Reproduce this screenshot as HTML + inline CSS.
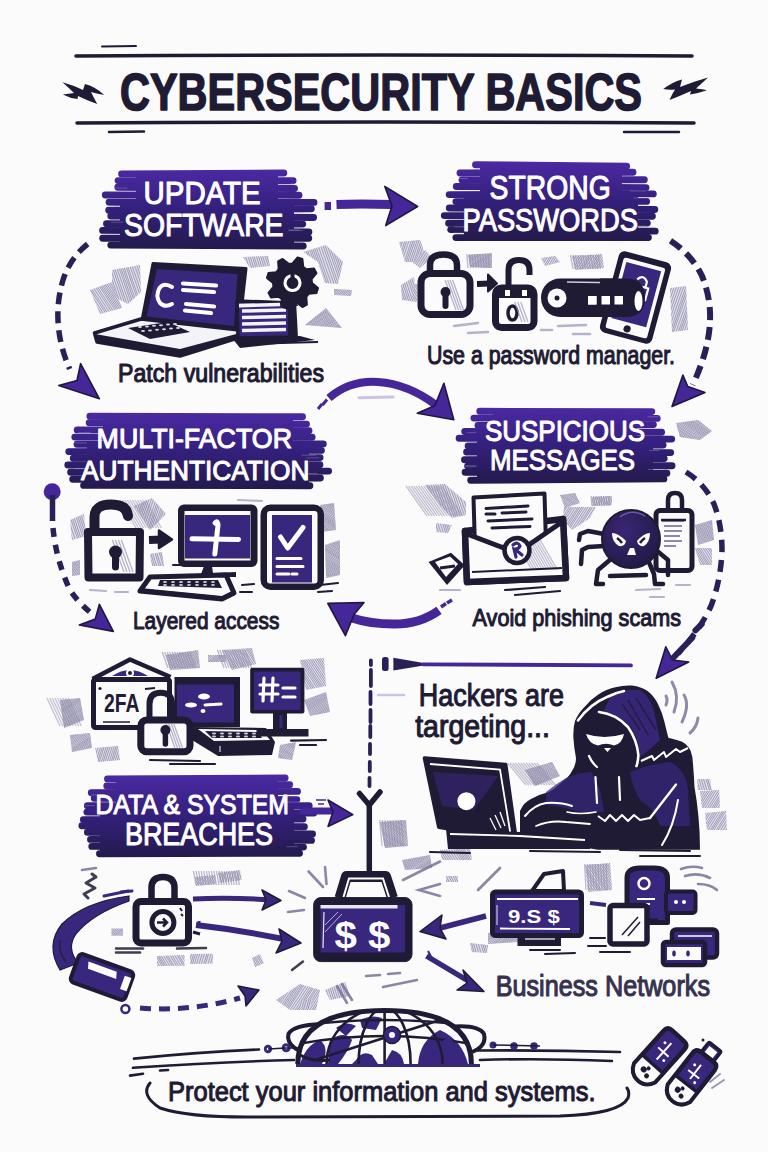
<!DOCTYPE html>
<html><head><meta charset="utf-8"><style>
html,body{margin:0;padding:0;background:#fbfbfc;}
svg{display:block;}
</style></head><body>
<svg width="768" height="1152" viewBox="0 0 768 1152">
<rect width="768" height="1152" fill="#fbfbfc"/>
<g stroke="#1f1b34" stroke-linecap="round" fill="none"><path d="M76 56 Q380 54 692 56" stroke-width="3.5"/><path d="M77 123 Q380 121 694 123" stroke-width="3.5"/><path d="M102 46.5 L136 46" stroke-width="2"/><path d="M109 132 L144 131.5" stroke-width="2.5"/><path d="M624 132 L679 132" stroke-width="2.5"/></g>
<path d="M62.4 82.2 Q73 85 83 90 L85 84 Q96 87 104.2 95 Q96 93.5 91 92 Q94 98 97.2 104 Q86 100 78 96 L77.5 99 Q70 98.5 62.8 94.6 Q69 93.5 74 93 Q68 87 62.4 82.2 Z" fill="#1f1b34"/>
<path d="M663.2 89.1 Q672 82 682 79.4 L680 87 Q695 81 708 77.4 Q702 83 696 88.5 Q703 89 707 90.3 Q698 93.5 690 94.5 L691 91 Q680 96 669.5 100 Q672 94 675 89.5 Q669 90 663.2 89.1 Z" fill="#1f1b34"/>
<text x="120" y="110" font-family="Liberation Sans" font-weight="bold" font-size="52.33" fill="#1f1b34" textLength="522" lengthAdjust="spacingAndGlyphs" stroke="#1f1b34" stroke-width="1.6" stroke-linejoin="round">CYBERSECURITY BASICS</text>
<defs><linearGradient id="g1" gradientUnits="userSpaceOnUse" x1="0" y1="170" x2="0" y2="249"><stop offset="0" stop-color="#4b29a2"/><stop offset="0.5" stop-color="#33207c"/><stop offset="1" stop-color="#241a4c"/></linearGradient></defs>
<rect x="136" y="173" width="142" height="73" fill="url(#g1)"/>
<rect x="120" y="201.6" width="174" height="41.4" fill="url(#g1)"/>
<g stroke="url(#g1)" stroke-width="6.9" stroke-linecap="round" fill="none"><path d="M121.6 173.9 L283.8 173.0" /><path d="M118.1 180.6 L293.1 180.7" /><path d="M117.8 187.2 L294.5 188.5" /><path d="M105.3 195.0 L299.0 195.2" /><path d="M109.1 202.2 L314.0 202.4" /><path d="M108.7 210.2 L311.3 208.8" /><path d="M110.8 216.0 L313.6 217.5" /><path d="M106.5 223.7 L302.7 224.1" /><path d="M102.6 230.4 L308.9 231.9" /><path d="M102.7 238.3 L308.7 238.3" /><path d="M110.8 245.1 L303.2 246.0" /></g>
<g stroke="#ffffff" stroke-opacity="0.22" stroke-width="1" stroke-linecap="round"><path d="M106.3 205.9 l8.2 0"/><path d="M289.5 230.4 l13.1 0"/><path d="M111.9 188.1 l14.9 0"/><path d="M291.3 183.9 l13.8 0"/><path d="M111.5 222.2 l11.4 0"/><path d="M288.6 230.0 l10.4 0"/></g>
<text x="143.5" y="204" font-family="Liberation Sans" font-weight="normal" font-size="31.98" fill="#fff" textLength="117.19999999999999" lengthAdjust="spacingAndGlyphs" stroke="#fff" stroke-width="1.1" stroke-linejoin="round">UPDATE</text>
<text x="124" y="235.5" font-family="Liberation Sans" font-weight="normal" font-size="31.98" fill="#fff" textLength="159.5" lengthAdjust="spacingAndGlyphs" stroke="#fff" stroke-width="1.1" stroke-linejoin="round">SOFTWARE</text>
<defs><linearGradient id="g2" gradientUnits="userSpaceOnUse" x1="0" y1="162" x2="0" y2="241"><stop offset="0" stop-color="#4b29a2"/><stop offset="0.5" stop-color="#33207c"/><stop offset="1" stop-color="#241a4c"/></linearGradient></defs>
<rect x="480" y="165" width="142" height="73" fill="url(#g2)"/>
<rect x="464" y="193.6" width="174" height="41.4" fill="url(#g2)"/>
<g stroke="url(#g2)" stroke-width="6.9" stroke-linecap="round" fill="none"><path d="M475.5 164.7 L626.6 166.2" /><path d="M460.0 173.0 L633.0 172.3" /><path d="M462.0 180.0 L644.3 179.7" /><path d="M456.3 186.5 L646.0 187.6" /><path d="M449.2 194.6 L653.3 193.9" /><path d="M455.9 201.6 L646.6 201.4" /><path d="M449.3 208.0 L654.8 209.5" /><path d="M444.3 215.6 L652.4 216.2" /><path d="M448.6 223.2 L647.3 223.1" /><path d="M450.7 229.6 L655.2 231.1" /><path d="M455.9 237.6 L648.4 237.5" /></g>
<g stroke="#ffffff" stroke-opacity="0.22" stroke-width="1" stroke-linecap="round"><path d="M453.4 232.9 l9.5 0"/><path d="M631.6 226.1 l13.9 0"/><path d="M454.1 226.9 l14.3 0"/><path d="M630.2 191.0 l15.7 0"/><path d="M454.0 178.5 l13.7 0"/><path d="M633.8 198.0 l11.9 0"/></g>
<text x="489.6" y="199" font-family="Liberation Sans" font-weight="normal" font-size="33.43" fill="#fff" textLength="121.10000000000002" lengthAdjust="spacingAndGlyphs" stroke="#fff" stroke-width="1.1" stroke-linejoin="round">STRONG</text>
<text x="462.5" y="230.5" font-family="Liberation Sans" font-weight="normal" font-size="31.98" fill="#fff" textLength="175.5" lengthAdjust="spacingAndGlyphs" stroke="#fff" stroke-width="1.1" stroke-linejoin="round">PASSWORDS</text>
<defs><linearGradient id="g3" gradientUnits="userSpaceOnUse" x1="0" y1="413" x2="0" y2="489"><stop offset="0" stop-color="#4b29a2"/><stop offset="0.5" stop-color="#33207c"/><stop offset="1" stop-color="#241a4c"/></linearGradient></defs>
<rect x="103" y="416" width="190" height="70" fill="url(#g3)"/>
<rect x="87" y="443.4" width="222" height="39.6" fill="url(#g3)"/>
<g stroke="url(#g3)" stroke-width="6.9" stroke-linecap="round" fill="none"><path d="M89.9 416.2 L302.5 416.7" /><path d="M89.2 422.7 L306.5 424.1" /><path d="M77.2 429.9 L309.0 430.7" /><path d="M74.8 437.1 L312.1 437.2" /><path d="M77.0 444.3 L323.3 443.9" /><path d="M68.8 451.6 L321.4 450.4" /><path d="M73.3 458.2 L320.1 457.6" /><path d="M67.8 465.0 L319.9 464.7" /><path d="M70.6 472.3 L328.6 471.1" /><path d="M72.7 479.2 L320.4 478.0" /><path d="M83.6 485.4 L309.9 485.7" /></g>
<g stroke="#ffffff" stroke-opacity="0.22" stroke-width="1" stroke-linecap="round"><path d="M74.6 468.7 l15.5 0"/><path d="M308.2 473.5 l9.1 0"/><path d="M78.7 432.5 l11.5 0"/><path d="M306.6 457.9 l12.1 0"/><path d="M73.8 442.9 l12.7 0"/><path d="M301.8 455.2 l13.5 0"/></g>
<text x="96.6" y="448" font-family="Liberation Sans" font-weight="normal" font-size="28.34" fill="#fff" textLength="195.4" lengthAdjust="spacingAndGlyphs" stroke="#fff" stroke-width="1.1" stroke-linejoin="round">MULTI-FACTOR</text>
<text x="81" y="480" font-family="Liberation Sans" font-weight="normal" font-size="28.34" fill="#fff" textLength="228.5" lengthAdjust="spacingAndGlyphs" stroke="#fff" stroke-width="1.1" stroke-linejoin="round">AUTHENTICATION</text>
<defs><linearGradient id="g4" gradientUnits="userSpaceOnUse" x1="0" y1="408" x2="0" y2="483"><stop offset="0" stop-color="#4b29a2"/><stop offset="0.5" stop-color="#33207c"/><stop offset="1" stop-color="#241a4c"/></linearGradient></defs>
<rect x="493" y="411" width="144" height="69" fill="url(#g4)"/>
<rect x="477" y="438.0" width="176" height="39.0" fill="url(#g4)"/>
<g stroke="url(#g4)" stroke-width="6.9" stroke-linecap="round" fill="none"><path d="M479.8 411.3 L651.8 411.6" /><path d="M473.9 418.1 L657.2 418.4" /><path d="M478.0 425.5 L653.4 424.6" /><path d="M464.7 431.5 L661.6 432.2" /><path d="M459.1 438.2 L671.7 439.1" /><path d="M468.1 446.0 L663.1 445.0" /><path d="M466.6 452.0 L670.7 452.6" /><path d="M464.5 459.7 L664.2 458.6" /><path d="M467.6 466.1 L672.0 465.8" /><path d="M465.1 472.2 L666.9 473.3" /><path d="M470.7 480.2 L663.9 478.9" /></g>
<g stroke="#ffffff" stroke-opacity="0.22" stroke-width="1" stroke-linecap="round"><path d="M465.4 466.8 l10.4 0"/><path d="M648.4 469.4 l15.1 0"/><path d="M465.1 465.7 l11.3 0"/><path d="M649.6 450.5 l9.3 0"/><path d="M467.5 432.6 l8.3 0"/><path d="M648.0 416.8 l10.2 0"/></g>
<text x="485" y="441" font-family="Liberation Sans" font-weight="normal" font-size="29.07" fill="#fff" textLength="160" lengthAdjust="spacingAndGlyphs" stroke="#fff" stroke-width="1.1" stroke-linejoin="round">SUSPICIOUS</text>
<text x="490" y="470" font-family="Liberation Sans" font-weight="normal" font-size="29.07" fill="#fff" textLength="145" lengthAdjust="spacingAndGlyphs" stroke="#fff" stroke-width="1.1" stroke-linejoin="round">MESSAGES</text>
<defs><linearGradient id="g5" gradientUnits="userSpaceOnUse" x1="0" y1="775" x2="0" y2="857"><stop offset="0" stop-color="#4b29a2"/><stop offset="0.5" stop-color="#33207c"/><stop offset="1" stop-color="#241a4c"/></linearGradient></defs>
<rect x="116" y="778" width="162" height="76" fill="url(#g5)"/>
<rect x="100" y="807.8" width="194" height="43.199999999999996" fill="url(#g5)"/>
<g stroke="url(#g5)" stroke-width="6.9" stroke-linecap="round" fill="none"><path d="M107.5 778.9 L285.1 778.0" /><path d="M106.8 786.0 L289.7 784.6" /><path d="M91.3 792.8 L297.5 791.4" /><path d="M94.2 798.3 L296.8 799.6" /><path d="M87.4 805.8 L309.2 805.7" /><path d="M86.9 812.1 L313.8 813.0" /><path d="M83.4 819.8 L303.0 819.0" /><path d="M81.9 825.7 L304.4 826.8" /><path d="M87.4 832.3 L312.5 833.9" /><path d="M90.5 839.4 L311.5 840.4" /><path d="M91.8 846.4 L303.5 847.1" /><path d="M99.5 853.8 L299.5 853.3" /></g>
<g stroke="#ffffff" stroke-opacity="0.22" stroke-width="1" stroke-linecap="round"><path d="M91.5 794.9 l13.5 0"/><path d="M286.9 846.7 l10.4 0"/><path d="M85.3 805.6 l9.2 0"/><path d="M291.6 785.4 l12.8 0"/><path d="M89.4 781.2 l10.7 0"/><path d="M287.5 802.1 l11.8 0"/></g>
<text x="95.6" y="814" font-family="Liberation Sans" font-weight="normal" font-size="27.62" fill="#fff" textLength="193.4" lengthAdjust="spacingAndGlyphs" stroke="#fff" stroke-width="1.1" stroke-linejoin="round">DATA &amp; SYSTEM</text>
<text x="125" y="845" font-family="Liberation Sans" font-weight="normal" font-size="30.52" fill="#fff" textLength="148" lengthAdjust="spacingAndGlyphs" stroke="#fff" stroke-width="1.1" stroke-linejoin="round">BREACHES</text>
<defs><clipPath id="pc1"><path d="M112.0 270.0 L140.0 265.0 L141.0 292.0 L128.0 304.0 L112.0 296.0Z"/></clipPath></defs><path d="M112.0 270.0 L140.0 265.0 L141.0 292.0 L128.0 304.0 L112.0 296.0Z" fill="#dcdae7" opacity="0.9"/><g clip-path="url(#pc1)" stroke="#8a86a6" stroke-width="1" opacity="0.75"><path d="M95.8 305.0 l-14.2 -41.0"/><path d="M98.0 305.0 l-14.2 -41.0"/><path d="M100.4 305.0 l-14.2 -41.0"/><path d="M102.0 305.0 l-14.2 -41.0"/><path d="M103.8 305.0 l-14.2 -41.0"/><path d="M106.1 305.0 l-14.2 -41.0"/><path d="M108.2 305.0 l-14.2 -41.0"/><path d="M110.2 305.0 l-14.2 -41.0"/><path d="M112.0 305.0 l-14.2 -41.0"/><path d="M114.1 305.0 l-14.2 -41.0"/><path d="M116.6 305.0 l-14.2 -41.0"/><path d="M118.6 305.0 l-14.2 -41.0"/><path d="M120.8 305.0 l-14.2 -41.0"/><path d="M123.1 305.0 l-14.2 -41.0"/><path d="M125.4 305.0 l-14.2 -41.0"/><path d="M127.3 305.0 l-14.2 -41.0"/><path d="M129.7 305.0 l-14.2 -41.0"/><path d="M131.9 305.0 l-14.2 -41.0"/><path d="M133.6 305.0 l-14.2 -41.0"/><path d="M135.5 305.0 l-14.2 -41.0"/><path d="M137.1 305.0 l-14.2 -41.0"/><path d="M139.4 305.0 l-14.2 -41.0"/><path d="M141.0 305.0 l-14.2 -41.0"/><path d="M143.5 305.0 l-14.2 -41.0"/><path d="M145.7 305.0 l-14.2 -41.0"/><path d="M148.3 305.0 l-14.2 -41.0"/><path d="M150.6 305.0 l-14.2 -41.0"/><path d="M152.8 305.0 l-14.2 -41.0"/><path d="M155.1 305.0 l-14.2 -41.0"/></g>
<defs><clipPath id="pc2"><path d="M90.0 290.0 L112.0 282.0 L122.0 308.0 L100.0 314.0Z"/></clipPath></defs><path d="M90.0 290.0 L112.0 282.0 L122.0 308.0 L100.0 314.0Z" fill="#dcdae7" opacity="0.9"/><g clip-path="url(#pc2)" stroke="#8a86a6" stroke-width="1" opacity="0.75"><path d="M65.6 315.0 l-22.4 -34.0"/><path d="M67.3 315.0 l-22.4 -34.0"/><path d="M69.2 315.0 l-22.4 -34.0"/><path d="M71.0 315.0 l-22.4 -34.0"/><path d="M73.4 315.0 l-22.4 -34.0"/><path d="M75.9 315.0 l-22.4 -34.0"/><path d="M77.7 315.0 l-22.4 -34.0"/><path d="M79.5 315.0 l-22.4 -34.0"/><path d="M81.2 315.0 l-22.4 -34.0"/><path d="M83.5 315.0 l-22.4 -34.0"/><path d="M86.1 315.0 l-22.4 -34.0"/><path d="M88.3 315.0 l-22.4 -34.0"/><path d="M90.7 315.0 l-22.4 -34.0"/><path d="M93.2 315.0 l-22.4 -34.0"/><path d="M95.3 315.0 l-22.4 -34.0"/><path d="M97.2 315.0 l-22.4 -34.0"/><path d="M99.8 315.0 l-22.4 -34.0"/><path d="M101.9 315.0 l-22.4 -34.0"/><path d="M104.4 315.0 l-22.4 -34.0"/><path d="M106.9 315.0 l-22.4 -34.0"/><path d="M108.8 315.0 l-22.4 -34.0"/><path d="M111.3 315.0 l-22.4 -34.0"/><path d="M113.9 315.0 l-22.4 -34.0"/><path d="M115.9 315.0 l-22.4 -34.0"/><path d="M118.4 315.0 l-22.4 -34.0"/><path d="M120.1 315.0 l-22.4 -34.0"/><path d="M121.9 315.0 l-22.4 -34.0"/><path d="M123.7 315.0 l-22.4 -34.0"/><path d="M125.5 315.0 l-22.4 -34.0"/><path d="M127.3 315.0 l-22.4 -34.0"/><path d="M129.4 315.0 l-22.4 -34.0"/><path d="M131.4 315.0 l-22.4 -34.0"/><path d="M133.5 315.0 l-22.4 -34.0"/><path d="M135.6 315.0 l-22.4 -34.0"/><path d="M138.2 315.0 l-22.4 -34.0"/><path d="M140.3 315.0 l-22.4 -34.0"/><path d="M142.3 315.0 l-22.4 -34.0"/><path d="M144.4 315.0 l-22.4 -34.0"/></g>
<defs><clipPath id="pc3"><path d="M243.0 257.0 L268.0 256.0 L270.0 266.0 L250.0 268.0Z"/></clipPath></defs><path d="M243.0 257.0 L268.0 256.0 L270.0 266.0 L250.0 268.0Z" fill="#dcdae7" opacity="0.9"/><g clip-path="url(#pc3)" stroke="#8a86a6" stroke-width="1" opacity="0.75"><path d="M236.6 269.0 l-4.4 -14.0"/><path d="M238.8 269.0 l-4.4 -14.0"/><path d="M240.6 269.0 l-4.4 -14.0"/><path d="M243.1 269.0 l-4.4 -14.0"/><path d="M245.1 269.0 l-4.4 -14.0"/><path d="M247.3 269.0 l-4.4 -14.0"/><path d="M249.5 269.0 l-4.4 -14.0"/><path d="M252.0 269.0 l-4.4 -14.0"/><path d="M254.1 269.0 l-4.4 -14.0"/><path d="M256.3 269.0 l-4.4 -14.0"/><path d="M258.1 269.0 l-4.4 -14.0"/><path d="M260.4 269.0 l-4.4 -14.0"/><path d="M262.5 269.0 l-4.4 -14.0"/><path d="M264.7 269.0 l-4.4 -14.0"/><path d="M266.7 269.0 l-4.4 -14.0"/><path d="M269.1 269.0 l-4.4 -14.0"/><path d="M271.0 269.0 l-4.4 -14.0"/><path d="M272.7 269.0 l-4.4 -14.0"/><path d="M275.2 269.0 l-4.4 -14.0"/></g>
<defs><clipPath id="pc4"><path d="M303.0 252.0 L326.0 245.0 L343.0 262.0 L338.0 284.0 L325.0 283.0 L318.0 262.0Z"/></clipPath></defs><path d="M303.0 252.0 L326.0 245.0 L343.0 262.0 L338.0 284.0 L325.0 283.0 L318.0 262.0Z" fill="#dcdae7" opacity="0.9"/><g clip-path="url(#pc4)" stroke="#8a86a6" stroke-width="1" opacity="0.75"><path d="M286.8 285.0 l-14.2 -41.0"/><path d="M288.7 285.0 l-14.2 -41.0"/><path d="M291.0 285.0 l-14.2 -41.0"/><path d="M293.1 285.0 l-14.2 -41.0"/><path d="M294.8 285.0 l-14.2 -41.0"/><path d="M296.4 285.0 l-14.2 -41.0"/><path d="M298.6 285.0 l-14.2 -41.0"/><path d="M300.5 285.0 l-14.2 -41.0"/><path d="M303.0 285.0 l-14.2 -41.0"/><path d="M304.7 285.0 l-14.2 -41.0"/><path d="M306.8 285.0 l-14.2 -41.0"/><path d="M308.8 285.0 l-14.2 -41.0"/><path d="M311.2 285.0 l-14.2 -41.0"/><path d="M313.6 285.0 l-14.2 -41.0"/><path d="M315.5 285.0 l-14.2 -41.0"/><path d="M318.0 285.0 l-14.2 -41.0"/><path d="M319.6 285.0 l-14.2 -41.0"/><path d="M321.9 285.0 l-14.2 -41.0"/><path d="M323.7 285.0 l-14.2 -41.0"/><path d="M325.6 285.0 l-14.2 -41.0"/><path d="M327.4 285.0 l-14.2 -41.0"/><path d="M329.3 285.0 l-14.2 -41.0"/><path d="M331.7 285.0 l-14.2 -41.0"/><path d="M334.3 285.0 l-14.2 -41.0"/><path d="M336.7 285.0 l-14.2 -41.0"/><path d="M338.7 285.0 l-14.2 -41.0"/><path d="M341.1 285.0 l-14.2 -41.0"/><path d="M343.1 285.0 l-14.2 -41.0"/><path d="M345.1 285.0 l-14.2 -41.0"/><path d="M346.9 285.0 l-14.2 -41.0"/><path d="M348.8 285.0 l-14.2 -41.0"/><path d="M350.6 285.0 l-14.2 -41.0"/><path d="M353.2 285.0 l-14.2 -41.0"/><path d="M355.6 285.0 l-14.2 -41.0"/><path d="M358.2 285.0 l-14.2 -41.0"/></g>
<defs><clipPath id="pc5"><path d="M305.0 325.0 L326.0 308.0 L342.0 328.0Z"/></clipPath></defs><path d="M305.0 325.0 L326.0 308.0 L342.0 328.0Z" fill="#dcdae7" opacity="0.9"/><g clip-path="url(#pc5)" stroke="#8a86a6" stroke-width="1" opacity="0.75"><path d="M268.4 329.0 l34.6 -22.0"/><path d="M270.2 329.0 l34.6 -22.0"/><path d="M272.2 329.0 l34.6 -22.0"/><path d="M274.5 329.0 l34.6 -22.0"/><path d="M276.9 329.0 l34.6 -22.0"/><path d="M279.2 329.0 l34.6 -22.0"/><path d="M281.3 329.0 l34.6 -22.0"/><path d="M283.7 329.0 l34.6 -22.0"/><path d="M286.1 329.0 l34.6 -22.0"/><path d="M288.0 329.0 l34.6 -22.0"/><path d="M289.6 329.0 l34.6 -22.0"/><path d="M291.4 329.0 l34.6 -22.0"/><path d="M293.3 329.0 l34.6 -22.0"/><path d="M295.8 329.0 l34.6 -22.0"/><path d="M297.8 329.0 l34.6 -22.0"/><path d="M299.5 329.0 l34.6 -22.0"/><path d="M301.3 329.0 l34.6 -22.0"/><path d="M303.7 329.0 l34.6 -22.0"/><path d="M305.7 329.0 l34.6 -22.0"/><path d="M307.5 329.0 l34.6 -22.0"/><path d="M309.9 329.0 l34.6 -22.0"/><path d="M311.9 329.0 l34.6 -22.0"/><path d="M314.3 329.0 l34.6 -22.0"/><path d="M315.9 329.0 l34.6 -22.0"/><path d="M318.2 329.0 l34.6 -22.0"/><path d="M320.2 329.0 l34.6 -22.0"/><path d="M321.9 329.0 l34.6 -22.0"/><path d="M324.5 329.0 l34.6 -22.0"/><path d="M326.1 329.0 l34.6 -22.0"/><path d="M328.5 329.0 l34.6 -22.0"/><path d="M331.1 329.0 l34.6 -22.0"/><path d="M332.8 329.0 l34.6 -22.0"/><path d="M334.6 329.0 l34.6 -22.0"/><path d="M336.5 329.0 l34.6 -22.0"/><path d="M338.3 329.0 l34.6 -22.0"/><path d="M340.8 329.0 l34.6 -22.0"/><path d="M343.0 329.0 l34.6 -22.0"/><path d="M344.8 329.0 l34.6 -22.0"/><path d="M347.3 329.0 l34.6 -22.0"/><path d="M349.1 329.0 l34.6 -22.0"/><path d="M351.7 329.0 l34.6 -22.0"/><path d="M353.7 329.0 l34.6 -22.0"/><path d="M355.3 329.0 l34.6 -22.0"/><path d="M357.3 329.0 l34.6 -22.0"/><path d="M359.9 329.0 l34.6 -22.0"/><path d="M361.7 329.0 l34.6 -22.0"/><path d="M363.7 329.0 l34.6 -22.0"/><path d="M366.1 329.0 l34.6 -22.0"/><path d="M368.3 329.0 l34.6 -22.0"/><path d="M370.5 329.0 l34.6 -22.0"/><path d="M372.8 329.0 l34.6 -22.0"/><path d="M374.4 329.0 l34.6 -22.0"/><path d="M376.4 329.0 l34.6 -22.0"/><path d="M378.3 329.0 l34.6 -22.0"/></g>
<defs><clipPath id="pc6"><path d="M334.0 289.0 L352.0 290.0 L351.0 296.0 L334.0 295.0Z"/></clipPath></defs><path d="M334.0 289.0 L352.0 290.0 L351.0 296.0 L334.0 295.0Z" fill="#dcdae7" opacity="0.9"/><g clip-path="url(#pc6)" stroke="#8a86a6" stroke-width="1" opacity="0.75"><path d="M319.9 297.0 l12.1 -9.0"/><path d="M322.3 297.0 l12.1 -9.0"/><path d="M324.4 297.0 l12.1 -9.0"/><path d="M326.2 297.0 l12.1 -9.0"/><path d="M327.8 297.0 l12.1 -9.0"/><path d="M330.1 297.0 l12.1 -9.0"/><path d="M332.2 297.0 l12.1 -9.0"/><path d="M334.5 297.0 l12.1 -9.0"/><path d="M336.5 297.0 l12.1 -9.0"/><path d="M338.9 297.0 l12.1 -9.0"/><path d="M340.8 297.0 l12.1 -9.0"/><path d="M343.2 297.0 l12.1 -9.0"/><path d="M345.5 297.0 l12.1 -9.0"/><path d="M347.5 297.0 l12.1 -9.0"/><path d="M349.6 297.0 l12.1 -9.0"/><path d="M351.9 297.0 l12.1 -9.0"/><path d="M353.7 297.0 l12.1 -9.0"/><path d="M355.9 297.0 l12.1 -9.0"/><path d="M358.3 297.0 l12.1 -9.0"/><path d="M360.1 297.0 l12.1 -9.0"/><path d="M362.5 297.0 l12.1 -9.0"/><path d="M364.8 297.0 l12.1 -9.0"/></g>
<defs><clipPath id="pc7"><path d="M399.0 242.0 L420.0 240.0 L428.0 262.0 L405.0 262.0Z"/></clipPath></defs><path d="M399.0 242.0 L420.0 240.0 L428.0 262.0 L405.0 262.0Z" fill="#dcdae7" opacity="0.9"/><g clip-path="url(#pc7)" stroke="#8a86a6" stroke-width="1" opacity="0.75"><path d="M389.0 263.0 l8.0 -24.0"/><path d="M391.5 263.0 l8.0 -24.0"/><path d="M393.5 263.0 l8.0 -24.0"/><path d="M395.2 263.0 l8.0 -24.0"/><path d="M397.6 263.0 l8.0 -24.0"/><path d="M399.3 263.0 l8.0 -24.0"/><path d="M401.5 263.0 l8.0 -24.0"/><path d="M404.0 263.0 l8.0 -24.0"/><path d="M405.8 263.0 l8.0 -24.0"/><path d="M407.5 263.0 l8.0 -24.0"/><path d="M409.5 263.0 l8.0 -24.0"/><path d="M411.4 263.0 l8.0 -24.0"/><path d="M413.5 263.0 l8.0 -24.0"/><path d="M415.2 263.0 l8.0 -24.0"/><path d="M417.3 263.0 l8.0 -24.0"/><path d="M419.9 263.0 l8.0 -24.0"/><path d="M422.1 263.0 l8.0 -24.0"/><path d="M424.3 263.0 l8.0 -24.0"/><path d="M425.9 263.0 l8.0 -24.0"/><path d="M428.1 263.0 l8.0 -24.0"/><path d="M429.8 263.0 l8.0 -24.0"/><path d="M431.6 263.0 l8.0 -24.0"/><path d="M433.8 263.0 l8.0 -24.0"/><path d="M435.5 263.0 l8.0 -24.0"/><path d="M437.5 263.0 l8.0 -24.0"/></g>
<defs><clipPath id="pc8"><path d="M401.0 285.0 L414.0 277.0 L417.0 302.0 L402.0 300.0Z"/></clipPath></defs><path d="M401.0 285.0 L414.0 277.0 L417.0 302.0 L402.0 300.0Z" fill="#dcdae7" opacity="0.9"/><g clip-path="url(#pc8)" stroke="#8a86a6" stroke-width="1" opacity="0.75"><path d="M389.9 303.0 l-9.1 -27.0"/><path d="M391.9 303.0 l-9.1 -27.0"/><path d="M393.8 303.0 l-9.1 -27.0"/><path d="M395.6 303.0 l-9.1 -27.0"/><path d="M397.3 303.0 l-9.1 -27.0"/><path d="M399.0 303.0 l-9.1 -27.0"/><path d="M401.4 303.0 l-9.1 -27.0"/><path d="M403.5 303.0 l-9.1 -27.0"/><path d="M405.5 303.0 l-9.1 -27.0"/><path d="M407.2 303.0 l-9.1 -27.0"/><path d="M409.3 303.0 l-9.1 -27.0"/><path d="M411.2 303.0 l-9.1 -27.0"/><path d="M413.4 303.0 l-9.1 -27.0"/><path d="M415.9 303.0 l-9.1 -27.0"/><path d="M417.9 303.0 l-9.1 -27.0"/><path d="M420.0 303.0 l-9.1 -27.0"/><path d="M422.4 303.0 l-9.1 -27.0"/><path d="M424.7 303.0 l-9.1 -27.0"/><path d="M426.8 303.0 l-9.1 -27.0"/></g>
<path d="M153 263.5 L246 268.6 L239 331 L142 320 Z" fill="#1f1b34" stroke="#1f1b34" stroke-width="3" stroke-linejoin="round"/>
<path d="M157 269 L237.5 274 L234 326 L146.5 316.5 Z" fill="#38277c"/>
<path d="M172 287 Q164 282 159.5 288 Q155 296 160 303 Q165 308 172 304" stroke="#fff" stroke-width="4" fill="none" stroke-linecap="round"/>
<g stroke="#fff" stroke-width="4.2" stroke-linecap="round"><path d="M183 283.5 L216 285.5"/><path d="M183 290 L214 292"/><path d="M186 304 L214 306.5"/><path d="M185 310.5 L211 313"/></g>
<path d="M141 319 L239 330 L241 337 L180 356 L97 342 L94.5 333 Z" fill="#f4f3f8" stroke="#1f1b34" stroke-width="3.5" stroke-linejoin="round"/>
<path d="M95 334 L180 349 L240 333 L241 337 L180 356 L97 342 Z" fill="#1f1b34"/>
<path d="M128 328 L168 322 L190 332 L150 339 Z" fill="#1f1b34"/>
<g fill="#d8d6e6"><ellipse cx="140" cy="327.0" rx="2" ry="1"/><ellipse cx="143" cy="331.0" rx="2" ry="1"/><ellipse cx="147" cy="326.4" rx="2" ry="1"/><ellipse cx="150" cy="330.4" rx="2" ry="1"/><ellipse cx="154" cy="325.8" rx="2" ry="1"/><ellipse cx="157" cy="329.8" rx="2" ry="1"/><ellipse cx="161" cy="325.2" rx="2" ry="1"/><ellipse cx="164" cy="329.2" rx="2" ry="1"/><ellipse cx="168" cy="324.6" rx="2" ry="1"/><ellipse cx="171" cy="328.6" rx="2" ry="1"/><ellipse cx="175" cy="324.0" rx="2" ry="1"/><ellipse cx="178" cy="328.0" rx="2" ry="1"/></g>
<path d="M237 301 L292 303 L292 337 L238 338 Z" fill="#38277c" stroke="#1f1b34" stroke-width="3.5" stroke-linejoin="round"/>
<g stroke="#f4f3f8" stroke-width="3.6"><path d="M239 305.6 L280 304.5"/><path d="M242 311 L286 310"/><path d="M242 317.5 L286 316.5"/><path d="M242 324 L286 323"/><path d="M242 330.5 L286 329.5"/></g>
<path d="M288 300 L296 300 L298 338 L288 338 Z" fill="#1f1b34"/>
<path d="M232 338 L300 336 L315 340 L240 348 Z" fill="#1f1b34"/>
<path d="M242 344 L318 342" stroke="#1f1b34" stroke-width="2"/>
<path d="M312.0 283.0 L318.0 288.1 L316.5 292.9 L308.7 293.8 L306.3 296.8 L306.9 304.6 L302.4 307.0 L296.3 302.1 L292.5 302.5 L287.4 308.5 L282.6 307.0 L281.7 299.2 L278.7 296.8 L270.9 297.4 L268.5 292.9 L273.4 286.8 L273.0 283.0 L267.0 277.9 L268.5 273.1 L276.3 272.2 L278.7 269.2 L278.1 261.4 L282.6 259.0 L288.7 263.9 L292.5 263.5 L297.6 257.5 L302.4 259.0 L303.3 266.8 L306.3 269.2 L314.1 268.6 L316.5 273.1 L311.6 279.2Z" fill="#1f1b34" stroke="#1f1b34" stroke-width="2" stroke-linejoin="round"/>
<circle cx="292.5" cy="283" r="7.5" fill="none" stroke="#fff" stroke-width="3.2"/>
<path d="M292.5 283 L292.5 273" stroke="#1f1b34" stroke-width="4"/>
<path d="M286 300 L284 306 L298 306 L296 300 Z" fill="#1f1b34"/>
<defs><clipPath id="pc9"><path d="M412.0 262.0 L425.0 250.0 L432.0 258.0 L420.0 268.0Z"/></clipPath></defs><path d="M412.0 262.0 L425.0 250.0 L432.0 258.0 L420.0 268.0Z" fill="#dcdae7" opacity="0.9"/><g clip-path="url(#pc9)" stroke="#8a86a6" stroke-width="1" opacity="0.75"><path d="M397.4 269.0 l12.6 -20.0"/><path d="M399.6 269.0 l12.6 -20.0"/><path d="M401.5 269.0 l12.6 -20.0"/><path d="M403.3 269.0 l12.6 -20.0"/><path d="M405.5 269.0 l12.6 -20.0"/><path d="M407.5 269.0 l12.6 -20.0"/><path d="M409.5 269.0 l12.6 -20.0"/><path d="M411.7 269.0 l12.6 -20.0"/><path d="M413.7 269.0 l12.6 -20.0"/><path d="M416.2 269.0 l12.6 -20.0"/><path d="M418.5 269.0 l12.6 -20.0"/><path d="M420.8 269.0 l12.6 -20.0"/><path d="M422.6 269.0 l12.6 -20.0"/><path d="M425.2 269.0 l12.6 -20.0"/><path d="M427.7 269.0 l12.6 -20.0"/><path d="M429.7 269.0 l12.6 -20.0"/><path d="M431.5 269.0 l12.6 -20.0"/><path d="M433.2 269.0 l12.6 -20.0"/><path d="M434.9 269.0 l12.6 -20.0"/><path d="M437.4 269.0 l12.6 -20.0"/><path d="M439.9 269.0 l12.6 -20.0"/><path d="M441.6 269.0 l12.6 -20.0"/><path d="M443.9 269.0 l12.6 -20.0"/><path d="M446.3 269.0 l12.6 -20.0"/></g>
<defs><clipPath id="pc10"><path d="M468.0 255.0 L492.0 253.0 L492.0 268.0 L470.0 267.0Z"/></clipPath></defs><path d="M468.0 255.0 L492.0 253.0 L492.0 268.0 L470.0 267.0Z" fill="#dcdae7" opacity="0.9"/><g clip-path="url(#pc10)" stroke="#8a86a6" stroke-width="1" opacity="0.75"><path d="M440.0 269.0 l26.0 -17.0"/><path d="M441.7 269.0 l26.0 -17.0"/><path d="M443.7 269.0 l26.0 -17.0"/><path d="M445.3 269.0 l26.0 -17.0"/><path d="M447.4 269.0 l26.0 -17.0"/><path d="M449.5 269.0 l26.0 -17.0"/><path d="M451.4 269.0 l26.0 -17.0"/><path d="M453.8 269.0 l26.0 -17.0"/><path d="M455.4 269.0 l26.0 -17.0"/><path d="M457.5 269.0 l26.0 -17.0"/><path d="M459.2 269.0 l26.0 -17.0"/><path d="M461.7 269.0 l26.0 -17.0"/><path d="M464.1 269.0 l26.0 -17.0"/><path d="M466.1 269.0 l26.0 -17.0"/><path d="M468.1 269.0 l26.0 -17.0"/><path d="M469.8 269.0 l26.0 -17.0"/><path d="M471.8 269.0 l26.0 -17.0"/><path d="M473.8 269.0 l26.0 -17.0"/><path d="M476.2 269.0 l26.0 -17.0"/><path d="M478.1 269.0 l26.0 -17.0"/><path d="M479.9 269.0 l26.0 -17.0"/><path d="M481.8 269.0 l26.0 -17.0"/><path d="M483.7 269.0 l26.0 -17.0"/><path d="M485.8 269.0 l26.0 -17.0"/><path d="M488.2 269.0 l26.0 -17.0"/><path d="M490.1 269.0 l26.0 -17.0"/><path d="M492.1 269.0 l26.0 -17.0"/><path d="M494.1 269.0 l26.0 -17.0"/><path d="M496.3 269.0 l26.0 -17.0"/><path d="M498.1 269.0 l26.0 -17.0"/><path d="M499.9 269.0 l26.0 -17.0"/><path d="M502.4 269.0 l26.0 -17.0"/><path d="M504.5 269.0 l26.0 -17.0"/><path d="M506.9 269.0 l26.0 -17.0"/><path d="M508.8 269.0 l26.0 -17.0"/><path d="M511.0 269.0 l26.0 -17.0"/><path d="M513.1 269.0 l26.0 -17.0"/><path d="M515.1 269.0 l26.0 -17.0"/><path d="M517.4 269.0 l26.0 -17.0"/><path d="M519.3 269.0 l26.0 -17.0"/></g>
<g stroke="#8f8aa8" stroke-width="1.3" opacity="0.6"><path d="M468.0 268.0 l-1.2 -14.0"/><path d="M470.7 268.0 l-1.2 -14.0"/><path d="M473.3 268.0 l-1.2 -14.0"/><path d="M476.0 268.0 l-1.2 -14.0"/><path d="M478.7 268.0 l-1.2 -14.0"/><path d="M481.3 268.0 l-1.2 -14.0"/><path d="M484.0 268.0 l-1.2 -14.0"/><path d="M486.7 268.0 l-1.2 -14.0"/><path d="M489.3 268.0 l-1.2 -14.0"/></g>
<defs><clipPath id="pc11"><path d="M541.0 258.0 L555.0 256.0 L560.0 262.0 L545.0 266.0Z"/></clipPath></defs><path d="M541.0 258.0 L555.0 256.0 L560.0 262.0 L545.0 266.0Z" fill="#dcdae7" opacity="0.9"/><g clip-path="url(#pc11)" stroke="#8a86a6" stroke-width="1" opacity="0.75"><path d="M532.0 267.0 l7.0 -12.0"/><path d="M534.5 267.0 l7.0 -12.0"/><path d="M536.9 267.0 l7.0 -12.0"/><path d="M539.3 267.0 l7.0 -12.0"/><path d="M541.4 267.0 l7.0 -12.0"/><path d="M543.8 267.0 l7.0 -12.0"/><path d="M545.6 267.0 l7.0 -12.0"/><path d="M548.0 267.0 l7.0 -12.0"/><path d="M550.1 267.0 l7.0 -12.0"/><path d="M552.3 267.0 l7.0 -12.0"/><path d="M554.1 267.0 l7.0 -12.0"/><path d="M556.1 267.0 l7.0 -12.0"/><path d="M557.9 267.0 l7.0 -12.0"/><path d="M560.0 267.0 l7.0 -12.0"/><path d="M562.5 267.0 l7.0 -12.0"/><path d="M564.7 267.0 l7.0 -12.0"/><path d="M566.9 267.0 l7.0 -12.0"/><path d="M568.9 267.0 l7.0 -12.0"/></g>
<defs><clipPath id="pc12"><path d="M572.0 256.0 L602.0 254.0 L604.0 268.0 L575.0 270.0Z"/></clipPath></defs><path d="M572.0 256.0 L602.0 254.0 L604.0 268.0 L575.0 270.0Z" fill="#dcdae7" opacity="0.9"/><g clip-path="url(#pc12)" stroke="#8a86a6" stroke-width="1" opacity="0.75"><path d="M558.8 271.0 l11.2 -18.0"/><path d="M560.7 271.0 l11.2 -18.0"/><path d="M562.8 271.0 l11.2 -18.0"/><path d="M564.7 271.0 l11.2 -18.0"/><path d="M566.7 271.0 l11.2 -18.0"/><path d="M569.3 271.0 l11.2 -18.0"/><path d="M571.4 271.0 l11.2 -18.0"/><path d="M573.6 271.0 l11.2 -18.0"/><path d="M575.7 271.0 l11.2 -18.0"/><path d="M578.2 271.0 l11.2 -18.0"/><path d="M580.0 271.0 l11.2 -18.0"/><path d="M581.6 271.0 l11.2 -18.0"/><path d="M583.8 271.0 l11.2 -18.0"/><path d="M586.4 271.0 l11.2 -18.0"/><path d="M588.4 271.0 l11.2 -18.0"/><path d="M590.3 271.0 l11.2 -18.0"/><path d="M592.1 271.0 l11.2 -18.0"/><path d="M594.3 271.0 l11.2 -18.0"/><path d="M596.1 271.0 l11.2 -18.0"/><path d="M598.2 271.0 l11.2 -18.0"/><path d="M600.6 271.0 l11.2 -18.0"/><path d="M602.9 271.0 l11.2 -18.0"/><path d="M605.3 271.0 l11.2 -18.0"/><path d="M607.0 271.0 l11.2 -18.0"/><path d="M609.5 271.0 l11.2 -18.0"/><path d="M611.9 271.0 l11.2 -18.0"/><path d="M614.2 271.0 l11.2 -18.0"/><path d="M616.0 271.0 l11.2 -18.0"/></g>
<g stroke="#8f8aa8" stroke-width="1.3" opacity="0.6"><path d="M573.0 269.0 l-2.5 -14.0"/><path d="M575.5 269.0 l-2.5 -14.0"/><path d="M578.0 269.0 l-2.5 -14.0"/><path d="M580.5 269.0 l-2.5 -14.0"/><path d="M583.0 269.0 l-2.5 -14.0"/><path d="M585.5 269.0 l-2.5 -14.0"/><path d="M588.0 269.0 l-2.5 -14.0"/><path d="M590.5 269.0 l-2.5 -14.0"/><path d="M593.0 269.0 l-2.5 -14.0"/><path d="M595.5 269.0 l-2.5 -14.0"/><path d="M598.0 269.0 l-2.5 -14.0"/><path d="M600.5 269.0 l-2.5 -14.0"/></g>
<defs><clipPath id="pc13"><path d="M670.0 288.0 L686.0 286.0 L688.0 330.0 L672.0 332.0Z"/></clipPath></defs><path d="M670.0 288.0 L686.0 286.0 L688.0 330.0 L672.0 332.0Z" fill="#dcdae7" opacity="0.9"/><g clip-path="url(#pc13)" stroke="#8a86a6" stroke-width="1" opacity="0.75"><path d="M651.3 333.0 l16.7 -48.0"/><path d="M653.1 333.0 l16.7 -48.0"/><path d="M655.7 333.0 l16.7 -48.0"/><path d="M658.1 333.0 l16.7 -48.0"/><path d="M660.5 333.0 l16.7 -48.0"/><path d="M662.8 333.0 l16.7 -48.0"/><path d="M665.1 333.0 l16.7 -48.0"/><path d="M667.5 333.0 l16.7 -48.0"/><path d="M669.8 333.0 l16.7 -48.0"/><path d="M671.6 333.0 l16.7 -48.0"/><path d="M673.2 333.0 l16.7 -48.0"/><path d="M675.7 333.0 l16.7 -48.0"/><path d="M678.0 333.0 l16.7 -48.0"/><path d="M679.7 333.0 l16.7 -48.0"/><path d="M681.4 333.0 l16.7 -48.0"/><path d="M683.7 333.0 l16.7 -48.0"/><path d="M686.3 333.0 l16.7 -48.0"/><path d="M688.9 333.0 l16.7 -48.0"/><path d="M691.3 333.0 l16.7 -48.0"/><path d="M693.0 333.0 l16.7 -48.0"/><path d="M695.4 333.0 l16.7 -48.0"/><path d="M697.9 333.0 l16.7 -48.0"/><path d="M699.7 333.0 l16.7 -48.0"/><path d="M701.8 333.0 l16.7 -48.0"/><path d="M703.8 333.0 l16.7 -48.0"/><path d="M705.5 333.0 l16.7 -48.0"/></g>
<defs><clipPath id="pc14"><path d="M413.0 284.0 L418.0 284.0 L417.0 300.0 L412.0 300.0Z"/></clipPath></defs><path d="M413.0 284.0 L418.0 284.0 L417.0 300.0 L412.0 300.0Z" fill="#dcdae7" opacity="0.9"/><g clip-path="url(#pc14)" stroke="#8a86a6" stroke-width="1" opacity="0.75"><path d="M398.8 301.0 l-11.2 -18.0"/><path d="M401.0 301.0 l-11.2 -18.0"/><path d="M403.4 301.0 l-11.2 -18.0"/><path d="M405.5 301.0 l-11.2 -18.0"/><path d="M407.3 301.0 l-11.2 -18.0"/><path d="M409.7 301.0 l-11.2 -18.0"/><path d="M411.6 301.0 l-11.2 -18.0"/><path d="M413.2 301.0 l-11.2 -18.0"/><path d="M415.3 301.0 l-11.2 -18.0"/><path d="M417.4 301.0 l-11.2 -18.0"/><path d="M419.8 301.0 l-11.2 -18.0"/><path d="M421.8 301.0 l-11.2 -18.0"/><path d="M424.3 301.0 l-11.2 -18.0"/><path d="M426.2 301.0 l-11.2 -18.0"/><path d="M428.7 301.0 l-11.2 -18.0"/><path d="M430.6 301.0 l-11.2 -18.0"/></g>
<g stroke="#b5b2c9" stroke-width="2.5" stroke-linecap="round"><path d="M454 326 L478 323"/><path d="M468 333 L488 332"/><path d="M558 326 L586 325"/><path d="M573 334 L590 334"/><path d="M541 330 L552 330"/></g>
<path d="M430 272 L430 265 Q430 254.5 443.5 254.5 Q457 254.5 457 265 L457 272" fill="none" stroke="#1f1b34" stroke-width="6.5"/>
<rect x="421" y="273.5" width="49" height="41" rx="9" fill="#fbfbfc" stroke="#1f1b34" stroke-width="7" />
<g stroke="#9a96b2" stroke-width="1.3" opacity="0.7"><path d="M456.0 310.0 l-10.9 -30.0"/><path d="M458.5 310.0 l-10.9 -30.0"/><path d="M461.0 310.0 l-10.9 -30.0"/><path d="M463.5 310.0 l-10.9 -30.0"/></g>
<circle cx="445.5" cy="292" r="5" fill="#1f1b34"/><path d="M445.5 292 L445.5 306" stroke="#1f1b34" stroke-width="6" stroke-linecap="round"/>
<path d="M477 284 L490 283.5" stroke="#1f1b34" stroke-width="6"/><path d="M488 274.5 L497 283.5 L488 291.5 Z" fill="#1f1b34" stroke="#1f1b34" stroke-width="2" stroke-linejoin="round"/>
<path d="M508.5 287 L508.5 270 Q508.5 260 519 260 Q529.5 260 529.5 270 L529.5 275" fill="none" stroke="#1f1b34" stroke-width="6"/>
<rect x="495.5" y="288" width="38.5" height="39.5" rx="6" fill="#fbfbfc" stroke="#1f1b34" stroke-width="7" />
<rect x="497" y="288" width="36" height="10" fill="#1f1b34"/>
<rect x="505" y="290" width="5" height="6" fill="#fff"/><rect x="522" y="290" width="5" height="6" fill="#fff"/>
<ellipse cx="512.5" cy="313" rx="4.5" ry="7" fill="none" stroke="#1f1b34" stroke-width="3.5"/>
<g stroke="#9a96b2" stroke-width="1.3" opacity="0.7"><path d="M522.0 322.0 l-7.3 -20.0"/><path d="M525.0 322.0 l-7.3 -20.0"/><path d="M528.0 322.0 l-7.3 -20.0"/></g>
<rect x="541" y="278.5" width="104" height="38.5" rx="19" fill="#1f1b34"/>
<circle cx="557" cy="298" r="9.5" fill="#fbfbfc"/>
<circle cx="557" cy="298" r="2.5" fill="#1f1b34"/>
<g fill="#fff"><rect x="588" y="296" width="8.5" height="8.5"/><rect x="601.5" y="296" width="8.5" height="8.5"/><rect x="614.5" y="296" width="8.5" height="8.5"/></g>
<path d="M567 282 L630 283" stroke="#cfcde0" stroke-width="1.5"/>
<g transform="translate(635.5 297.5) rotate(15)"><rect x="-27" y="-42" width="54" height="84" rx="6" fill="#1f1b34"/><rect x="-21.5" y="-36" width="43" height="73" rx="2.5" fill="#fbfbfc"/><rect x="-18" y="-32" width="36" height="58" fill="#38277c"/><circle cx="0" cy="32.5" r="3.6" fill="#1f1b34"/><path d="M-3 -18 Q2 -25 7 -18 L7 -12 M-6 -12 L10 -12 L10 0 L-6 0 Z" fill="none" stroke="#fff" stroke-width="2.2"/></g>
<path d="M600 278.5 L626 278.5 Q645 278.5 645 297.75 Q645 317 626 317 L600 317 Z" fill="#1f1b34"/>
<ellipse cx="638.5" cy="301" rx="4" ry="10" fill="#fff"/>
<g fill="#fff"><rect x="588" y="296" width="8.5" height="8.5"/><rect x="601.5" y="296" width="8.5" height="8.5"/><rect x="614.5" y="296" width="8.5" height="8.5"/></g>
<defs><clipPath id="pc15"><path d="M70.0 520.0 L84.0 514.0 L86.0 536.0 L72.0 540.0Z"/></clipPath></defs><path d="M70.0 520.0 L84.0 514.0 L86.0 536.0 L72.0 540.0Z" fill="#dcdae7" opacity="0.9"/><g clip-path="url(#pc15)" stroke="#8a86a6" stroke-width="1" opacity="0.75"><path d="M58.5 541.0 l-9.5 -28.0"/><path d="M60.1 541.0 l-9.5 -28.0"/><path d="M62.5 541.0 l-9.5 -28.0"/><path d="M64.2 541.0 l-9.5 -28.0"/><path d="M66.8 541.0 l-9.5 -28.0"/><path d="M68.4 541.0 l-9.5 -28.0"/><path d="M70.9 541.0 l-9.5 -28.0"/><path d="M73.2 541.0 l-9.5 -28.0"/><path d="M75.7 541.0 l-9.5 -28.0"/><path d="M78.3 541.0 l-9.5 -28.0"/><path d="M80.1 541.0 l-9.5 -28.0"/><path d="M82.0 541.0 l-9.5 -28.0"/><path d="M84.3 541.0 l-9.5 -28.0"/><path d="M86.2 541.0 l-9.5 -28.0"/><path d="M88.1 541.0 l-9.5 -28.0"/><path d="M89.9 541.0 l-9.5 -28.0"/><path d="M92.4 541.0 l-9.5 -28.0"/><path d="M94.9 541.0 l-9.5 -28.0"/><path d="M97.3 541.0 l-9.5 -28.0"/></g>
<defs><clipPath id="pc16"><path d="M134.0 506.0 L152.0 498.0 L166.0 514.0 L150.0 530.0Z"/></clipPath></defs><path d="M134.0 506.0 L152.0 498.0 L166.0 514.0 L150.0 530.0Z" fill="#dcdae7" opacity="0.9"/><g clip-path="url(#pc16)" stroke="#8a86a6" stroke-width="1" opacity="0.75"><path d="M120.4 531.0 l11.6 -34.0"/><path d="M122.4 531.0 l11.6 -34.0"/><path d="M124.3 531.0 l11.6 -34.0"/><path d="M126.1 531.0 l11.6 -34.0"/><path d="M127.7 531.0 l11.6 -34.0"/><path d="M130.2 531.0 l11.6 -34.0"/><path d="M132.5 531.0 l11.6 -34.0"/><path d="M134.3 531.0 l11.6 -34.0"/><path d="M136.2 531.0 l11.6 -34.0"/><path d="M138.1 531.0 l11.6 -34.0"/><path d="M140.5 531.0 l11.6 -34.0"/><path d="M142.7 531.0 l11.6 -34.0"/><path d="M145.3 531.0 l11.6 -34.0"/><path d="M147.5 531.0 l11.6 -34.0"/><path d="M149.1 531.0 l11.6 -34.0"/><path d="M150.9 531.0 l11.6 -34.0"/><path d="M153.1 531.0 l11.6 -34.0"/><path d="M154.8 531.0 l11.6 -34.0"/><path d="M156.5 531.0 l11.6 -34.0"/><path d="M158.7 531.0 l11.6 -34.0"/><path d="M161.0 531.0 l11.6 -34.0"/><path d="M163.0 531.0 l11.6 -34.0"/><path d="M165.2 531.0 l11.6 -34.0"/><path d="M167.5 531.0 l11.6 -34.0"/><path d="M170.1 531.0 l11.6 -34.0"/><path d="M172.5 531.0 l11.6 -34.0"/><path d="M174.5 531.0 l11.6 -34.0"/><path d="M176.5 531.0 l11.6 -34.0"/><path d="M178.2 531.0 l11.6 -34.0"/></g>
<g stroke="#8f8aa8" stroke-width="1.3" opacity="0.5"><path d="M136.0 528.0 l-16.2 -28.0"/><path d="M138.5 528.0 l-16.2 -28.0"/><path d="M141.1 528.0 l-16.2 -28.0"/><path d="M143.6 528.0 l-16.2 -28.0"/><path d="M146.2 528.0 l-16.2 -28.0"/><path d="M148.7 528.0 l-16.2 -28.0"/><path d="M151.3 528.0 l-16.2 -28.0"/><path d="M153.8 528.0 l-16.2 -28.0"/><path d="M156.4 528.0 l-16.2 -28.0"/><path d="M158.9 528.0 l-16.2 -28.0"/><path d="M161.5 528.0 l-16.2 -28.0"/></g>
<defs><clipPath id="pc17"><path d="M72.0 562.0 L80.0 560.0 L80.0 575.0 L72.0 576.0Z"/></clipPath></defs><path d="M72.0 562.0 L80.0 560.0 L80.0 575.0 L72.0 576.0Z" fill="#dcdae7" opacity="0.9"/><g clip-path="url(#pc17)" stroke="#8a86a6" stroke-width="1" opacity="0.75"><path d="M42.3 577.0 l27.7 -18.0"/><path d="M44.3 577.0 l27.7 -18.0"/><path d="M46.2 577.0 l27.7 -18.0"/><path d="M48.2 577.0 l27.7 -18.0"/><path d="M49.9 577.0 l27.7 -18.0"/><path d="M52.3 577.0 l27.7 -18.0"/><path d="M54.4 577.0 l27.7 -18.0"/><path d="M56.3 577.0 l27.7 -18.0"/><path d="M58.8 577.0 l27.7 -18.0"/><path d="M60.6 577.0 l27.7 -18.0"/><path d="M63.1 577.0 l27.7 -18.0"/><path d="M65.1 577.0 l27.7 -18.0"/><path d="M67.5 577.0 l27.7 -18.0"/><path d="M69.9 577.0 l27.7 -18.0"/><path d="M72.2 577.0 l27.7 -18.0"/><path d="M74.5 577.0 l27.7 -18.0"/><path d="M76.8 577.0 l27.7 -18.0"/><path d="M78.5 577.0 l27.7 -18.0"/><path d="M80.7 577.0 l27.7 -18.0"/><path d="M82.4 577.0 l27.7 -18.0"/><path d="M84.8 577.0 l27.7 -18.0"/><path d="M86.6 577.0 l27.7 -18.0"/><path d="M89.1 577.0 l27.7 -18.0"/><path d="M91.2 577.0 l27.7 -18.0"/><path d="M93.6 577.0 l27.7 -18.0"/><path d="M95.9 577.0 l27.7 -18.0"/><path d="M97.8 577.0 l27.7 -18.0"/><path d="M99.6 577.0 l27.7 -18.0"/><path d="M101.9 577.0 l27.7 -18.0"/><path d="M103.5 577.0 l27.7 -18.0"/><path d="M105.6 577.0 l27.7 -18.0"/><path d="M107.7 577.0 l27.7 -18.0"/></g>
<defs><clipPath id="pc18"><path d="M150.0 554.0 L162.0 552.0 L164.0 566.0 L152.0 566.0Z"/></clipPath></defs><path d="M150.0 554.0 L162.0 552.0 L164.0 566.0 L152.0 566.0Z" fill="#dcdae7" opacity="0.9"/><g clip-path="url(#pc18)" stroke="#8a86a6" stroke-width="1" opacity="0.75"><path d="M142.9 567.0 l-5.1 -16.0"/><path d="M144.6 567.0 l-5.1 -16.0"/><path d="M146.7 567.0 l-5.1 -16.0"/><path d="M148.5 567.0 l-5.1 -16.0"/><path d="M151.1 567.0 l-5.1 -16.0"/><path d="M153.3 567.0 l-5.1 -16.0"/><path d="M155.1 567.0 l-5.1 -16.0"/><path d="M157.0 567.0 l-5.1 -16.0"/><path d="M159.5 567.0 l-5.1 -16.0"/><path d="M161.3 567.0 l-5.1 -16.0"/><path d="M163.8 567.0 l-5.1 -16.0"/><path d="M165.5 567.0 l-5.1 -16.0"/><path d="M167.6 567.0 l-5.1 -16.0"/><path d="M170.0 567.0 l-5.1 -16.0"/></g>
<defs><clipPath id="pc19"><path d="M320.0 505.0 L334.0 503.0 L336.0 530.0 L322.0 532.0Z"/></clipPath></defs><path d="M320.0 505.0 L334.0 503.0 L336.0 530.0 L322.0 532.0Z" fill="#dcdae7" opacity="0.9"/><g clip-path="url(#pc19)" stroke="#8a86a6" stroke-width="1" opacity="0.75"><path d="M267.8 533.0 l-50.2 -31.0"/><path d="M269.4 533.0 l-50.2 -31.0"/><path d="M271.9 533.0 l-50.2 -31.0"/><path d="M273.6 533.0 l-50.2 -31.0"/><path d="M275.4 533.0 l-50.2 -31.0"/><path d="M277.4 533.0 l-50.2 -31.0"/><path d="M279.5 533.0 l-50.2 -31.0"/><path d="M281.7 533.0 l-50.2 -31.0"/><path d="M283.9 533.0 l-50.2 -31.0"/><path d="M285.6 533.0 l-50.2 -31.0"/><path d="M287.6 533.0 l-50.2 -31.0"/><path d="M290.2 533.0 l-50.2 -31.0"/><path d="M292.6 533.0 l-50.2 -31.0"/><path d="M295.0 533.0 l-50.2 -31.0"/><path d="M297.5 533.0 l-50.2 -31.0"/><path d="M299.1 533.0 l-50.2 -31.0"/><path d="M301.3 533.0 l-50.2 -31.0"/><path d="M303.8 533.0 l-50.2 -31.0"/><path d="M306.3 533.0 l-50.2 -31.0"/><path d="M308.0 533.0 l-50.2 -31.0"/><path d="M310.1 533.0 l-50.2 -31.0"/><path d="M312.6 533.0 l-50.2 -31.0"/><path d="M314.2 533.0 l-50.2 -31.0"/><path d="M315.9 533.0 l-50.2 -31.0"/><path d="M317.5 533.0 l-50.2 -31.0"/><path d="M319.7 533.0 l-50.2 -31.0"/><path d="M321.7 533.0 l-50.2 -31.0"/><path d="M324.2 533.0 l-50.2 -31.0"/><path d="M326.2 533.0 l-50.2 -31.0"/><path d="M328.8 533.0 l-50.2 -31.0"/><path d="M331.0 533.0 l-50.2 -31.0"/><path d="M333.1 533.0 l-50.2 -31.0"/><path d="M334.9 533.0 l-50.2 -31.0"/><path d="M337.1 533.0 l-50.2 -31.0"/><path d="M339.1 533.0 l-50.2 -31.0"/><path d="M341.5 533.0 l-50.2 -31.0"/><path d="M343.7 533.0 l-50.2 -31.0"/><path d="M345.4 533.0 l-50.2 -31.0"/><path d="M347.2 533.0 l-50.2 -31.0"/><path d="M349.0 533.0 l-50.2 -31.0"/><path d="M350.7 533.0 l-50.2 -31.0"/><path d="M352.8 533.0 l-50.2 -31.0"/><path d="M354.9 533.0 l-50.2 -31.0"/><path d="M357.0 533.0 l-50.2 -31.0"/><path d="M359.6 533.0 l-50.2 -31.0"/><path d="M362.1 533.0 l-50.2 -31.0"/><path d="M364.3 533.0 l-50.2 -31.0"/><path d="M366.4 533.0 l-50.2 -31.0"/><path d="M368.8 533.0 l-50.2 -31.0"/><path d="M370.9 533.0 l-50.2 -31.0"/><path d="M372.9 533.0 l-50.2 -31.0"/><path d="M375.1 533.0 l-50.2 -31.0"/><path d="M376.8 533.0 l-50.2 -31.0"/><path d="M378.4 533.0 l-50.2 -31.0"/><path d="M380.1 533.0 l-50.2 -31.0"/><path d="M382.2 533.0 l-50.2 -31.0"/><path d="M384.3 533.0 l-50.2 -31.0"/><path d="M386.5 533.0 l-50.2 -31.0"/></g>
<defs><clipPath id="pc20"><path d="M325.0 545.0 L340.0 540.0 L340.0 575.0 L326.0 578.0Z"/></clipPath></defs><path d="M325.0 545.0 L340.0 540.0 L340.0 575.0 L326.0 578.0Z" fill="#dcdae7" opacity="0.9"/><g clip-path="url(#pc20)" stroke="#8a86a6" stroke-width="1" opacity="0.75"><path d="M257.2 579.0 l-65.8 -40.0"/><path d="M259.5 579.0 l-65.8 -40.0"/><path d="M261.8 579.0 l-65.8 -40.0"/><path d="M264.3 579.0 l-65.8 -40.0"/><path d="M266.2 579.0 l-65.8 -40.0"/><path d="M268.4 579.0 l-65.8 -40.0"/><path d="M270.9 579.0 l-65.8 -40.0"/><path d="M273.4 579.0 l-65.8 -40.0"/><path d="M275.6 579.0 l-65.8 -40.0"/><path d="M277.4 579.0 l-65.8 -40.0"/><path d="M279.4 579.0 l-65.8 -40.0"/><path d="M282.0 579.0 l-65.8 -40.0"/><path d="M283.7 579.0 l-65.8 -40.0"/><path d="M285.6 579.0 l-65.8 -40.0"/><path d="M288.1 579.0 l-65.8 -40.0"/><path d="M290.2 579.0 l-65.8 -40.0"/><path d="M292.0 579.0 l-65.8 -40.0"/><path d="M293.9 579.0 l-65.8 -40.0"/><path d="M296.4 579.0 l-65.8 -40.0"/><path d="M298.4 579.0 l-65.8 -40.0"/><path d="M300.4 579.0 l-65.8 -40.0"/><path d="M302.6 579.0 l-65.8 -40.0"/><path d="M305.0 579.0 l-65.8 -40.0"/><path d="M307.1 579.0 l-65.8 -40.0"/><path d="M308.8 579.0 l-65.8 -40.0"/><path d="M311.0 579.0 l-65.8 -40.0"/><path d="M312.6 579.0 l-65.8 -40.0"/><path d="M314.3 579.0 l-65.8 -40.0"/><path d="M316.1 579.0 l-65.8 -40.0"/><path d="M318.4 579.0 l-65.8 -40.0"/><path d="M320.3 579.0 l-65.8 -40.0"/><path d="M322.5 579.0 l-65.8 -40.0"/><path d="M324.3 579.0 l-65.8 -40.0"/><path d="M326.0 579.0 l-65.8 -40.0"/><path d="M327.7 579.0 l-65.8 -40.0"/><path d="M330.0 579.0 l-65.8 -40.0"/><path d="M332.4 579.0 l-65.8 -40.0"/><path d="M334.2 579.0 l-65.8 -40.0"/><path d="M336.1 579.0 l-65.8 -40.0"/><path d="M337.7 579.0 l-65.8 -40.0"/><path d="M339.9 579.0 l-65.8 -40.0"/><path d="M341.8 579.0 l-65.8 -40.0"/><path d="M343.6 579.0 l-65.8 -40.0"/><path d="M345.8 579.0 l-65.8 -40.0"/><path d="M348.0 579.0 l-65.8 -40.0"/><path d="M350.1 579.0 l-65.8 -40.0"/><path d="M351.8 579.0 l-65.8 -40.0"/><path d="M354.1 579.0 l-65.8 -40.0"/><path d="M356.2 579.0 l-65.8 -40.0"/><path d="M358.2 579.0 l-65.8 -40.0"/><path d="M360.0 579.0 l-65.8 -40.0"/><path d="M362.5 579.0 l-65.8 -40.0"/><path d="M365.0 579.0 l-65.8 -40.0"/><path d="M367.3 579.0 l-65.8 -40.0"/><path d="M369.9 579.0 l-65.8 -40.0"/><path d="M372.1 579.0 l-65.8 -40.0"/><path d="M374.0 579.0 l-65.8 -40.0"/><path d="M375.7 579.0 l-65.8 -40.0"/><path d="M377.9 579.0 l-65.8 -40.0"/><path d="M380.1 579.0 l-65.8 -40.0"/><path d="M382.1 579.0 l-65.8 -40.0"/><path d="M384.7 579.0 l-65.8 -40.0"/><path d="M387.1 579.0 l-65.8 -40.0"/><path d="M388.8 579.0 l-65.8 -40.0"/><path d="M391.3 579.0 l-65.8 -40.0"/><path d="M392.9 579.0 l-65.8 -40.0"/><path d="M395.2 579.0 l-65.8 -40.0"/><path d="M397.1 579.0 l-65.8 -40.0"/><path d="M399.4 579.0 l-65.8 -40.0"/><path d="M402.0 579.0 l-65.8 -40.0"/><path d="M404.1 579.0 l-65.8 -40.0"/><path d="M406.5 579.0 l-65.8 -40.0"/></g>
<g stroke="#b5b2c9" stroke-width="2.2" stroke-linecap="round"><path d="M90 590 L106 591"/><path d="M115 592 L128 592"/><path d="M238 500 L262 501"/></g>
<path d="M94.5 530 L94.5 517 Q94.5 504.5 111 504.5 Q127 504.5 128 516" fill="none" stroke="#1f1b34" stroke-width="10" stroke-linecap="round"/>
<path d="M88 532 L140 532 L139.5 577.5 L88.5 577.5 Z" fill="#fbfbfc" stroke="#1f1b34" stroke-width="8" stroke-linejoin="round"/>
<g stroke="#9a96b2" stroke-width="1.3" opacity="0.7"><path d="M124.0 572.0 l-11.6 -32.0"/><path d="M127.0 572.0 l-11.6 -32.0"/><path d="M130.0 572.0 l-11.6 -32.0"/><path d="M133.0 572.0 l-11.6 -32.0"/></g>
<circle cx="115.5" cy="552" r="6.5" fill="#1f1b34"/><path d="M115.5 553 L115.5 567" stroke="#1f1b34" stroke-width="7" stroke-linecap="round"/>
<path d="M149 540 L162 539.5" stroke="#1f1b34" stroke-width="8"/><path d="M159 530.5 L172 539.5 L159 548 Z" fill="#1f1b34" stroke="#1f1b34" stroke-width="2.5" stroke-linejoin="round"/>
<rect x="181" y="507.5" width="73.5" height="56.5" rx="3" fill="#1f1b34" stroke="#1f1b34" stroke-width="6" />
<rect x="184.5" y="511" width="66" height="49.5" fill="#fbfbfc"/>
<rect x="185" y="515" width="65" height="43.5" fill="#38277c"/>
<g stroke="#fff" stroke-width="5" stroke-linecap="round"><path d="M192 538.75 L238.5 539.5"/><path d="M215 523 Q218 520 218 525 L214.8 554"/></g>
<path d="M204 566 L212 566 L213 573 L236 572 L236 577 L200 577 Z" fill="#1f1b34"/>
<path d="M150 577 L226 575 L234 593 L222 599 L140 591 Z" fill="#fbfbfc" stroke="#1f1b34" stroke-width="5" stroke-linejoin="round"/>
<path d="M140 588 L222 596 L234 590 L234 594 L222 600 L140 592 Z" fill="#1f1b34"/>
<path d="M160 580 L218 580 L222 588 L158 586 Z" fill="#1f1b34"/>
<g fill="#c9c7da"><ellipse cx="165" cy="582" rx="2" ry="0.9"/><ellipse cx="165" cy="585" rx="2" ry="0.9"/><ellipse cx="173" cy="582" rx="2" ry="0.9"/><ellipse cx="173" cy="585" rx="2" ry="0.9"/><ellipse cx="181" cy="582" rx="2" ry="0.9"/><ellipse cx="181" cy="585" rx="2" ry="0.9"/><ellipse cx="189" cy="582" rx="2" ry="0.9"/><ellipse cx="189" cy="585" rx="2" ry="0.9"/><ellipse cx="197" cy="582" rx="2" ry="0.9"/><ellipse cx="197" cy="585" rx="2" ry="0.9"/><ellipse cx="205" cy="582" rx="2" ry="0.9"/><ellipse cx="205" cy="585" rx="2" ry="0.9"/><ellipse cx="213" cy="582" rx="2" ry="0.9"/><ellipse cx="213" cy="585" rx="2" ry="0.9"/></g>
<g stroke="#1f1b34" stroke-width="2" stroke-linecap="round"><path d="M242 585 L254 584"/><path d="M240 592 L252 592"/><path d="M173 565 L180 565"/></g>
<rect x="263.5" y="507.5" width="57.5" height="79.5" rx="7" fill="#1f1b34" stroke="#1f1b34" stroke-width="6" />
<rect x="267" y="511" width="50.5" height="72.5" rx="3" fill="#fbfbfc"/>
<rect x="272" y="515" width="40" height="67.5" fill="#38277c"/>
<path d="M280.5 537 L287.7 548 L303 527.5" stroke="#fff" stroke-width="5" fill="none" stroke-linecap="round" stroke-linejoin="round"/>
<g stroke="#fff" stroke-width="3" stroke-linecap="round"><path d="M277 558.5 L301 558.5"/><path d="M277 566.5 L303 566.5"/><path d="M277 574 L289 574"/><path d="M292 574 L297 574"/></g>
<g stroke="#1f1b34" stroke-width="2" stroke-linecap="round"><path d="M320 585 L338 583"/><path d="M318 592 L332 591"/></g>
<defs><clipPath id="pc21"><path d="M425.0 485.0 L445.0 484.0 L466.0 502.0 L466.0 515.0 L452.0 518.0 L440.0 505.0Z"/></clipPath></defs><path d="M425.0 485.0 L445.0 484.0 L466.0 502.0 L466.0 515.0 L452.0 518.0 L440.0 505.0Z" fill="#dcdae7" opacity="0.9"/><g clip-path="url(#pc21)" stroke="#8a86a6" stroke-width="1" opacity="0.75"><path d="M410.6 519.0 l-12.4 -36.0"/><path d="M412.6 519.0 l-12.4 -36.0"/><path d="M414.7 519.0 l-12.4 -36.0"/><path d="M416.5 519.0 l-12.4 -36.0"/><path d="M419.0 519.0 l-12.4 -36.0"/><path d="M421.6 519.0 l-12.4 -36.0"/><path d="M423.6 519.0 l-12.4 -36.0"/><path d="M426.2 519.0 l-12.4 -36.0"/><path d="M428.0 519.0 l-12.4 -36.0"/><path d="M430.1 519.0 l-12.4 -36.0"/><path d="M432.5 519.0 l-12.4 -36.0"/><path d="M434.1 519.0 l-12.4 -36.0"/><path d="M436.7 519.0 l-12.4 -36.0"/><path d="M438.7 519.0 l-12.4 -36.0"/><path d="M440.4 519.0 l-12.4 -36.0"/><path d="M442.8 519.0 l-12.4 -36.0"/><path d="M445.3 519.0 l-12.4 -36.0"/><path d="M447.6 519.0 l-12.4 -36.0"/><path d="M449.6 519.0 l-12.4 -36.0"/><path d="M452.2 519.0 l-12.4 -36.0"/><path d="M454.6 519.0 l-12.4 -36.0"/><path d="M456.6 519.0 l-12.4 -36.0"/><path d="M458.7 519.0 l-12.4 -36.0"/><path d="M461.2 519.0 l-12.4 -36.0"/><path d="M463.3 519.0 l-12.4 -36.0"/><path d="M465.6 519.0 l-12.4 -36.0"/><path d="M467.9 519.0 l-12.4 -36.0"/><path d="M470.4 519.0 l-12.4 -36.0"/><path d="M472.1 519.0 l-12.4 -36.0"/><path d="M474.4 519.0 l-12.4 -36.0"/><path d="M476.1 519.0 l-12.4 -36.0"/><path d="M478.5 519.0 l-12.4 -36.0"/><path d="M480.1 519.0 l-12.4 -36.0"/></g>
<g stroke="#8f8aa8" stroke-width="1.3" opacity="0.55"><path d="M427.0 516.0 l-21.0 -30.0"/><path d="M429.5 516.0 l-21.0 -30.0"/><path d="M432.1 516.0 l-21.0 -30.0"/><path d="M434.6 516.0 l-21.0 -30.0"/><path d="M437.1 516.0 l-21.0 -30.0"/><path d="M439.7 516.0 l-21.0 -30.0"/><path d="M442.2 516.0 l-21.0 -30.0"/><path d="M444.7 516.0 l-21.0 -30.0"/><path d="M447.3 516.0 l-21.0 -30.0"/><path d="M449.8 516.0 l-21.0 -30.0"/><path d="M452.3 516.0 l-21.0 -30.0"/><path d="M454.9 516.0 l-21.0 -30.0"/><path d="M457.4 516.0 l-21.0 -30.0"/><path d="M459.9 516.0 l-21.0 -30.0"/><path d="M462.5 516.0 l-21.0 -30.0"/></g>
<defs><clipPath id="pc22"><path d="M436.0 523.0 L452.0 525.0 L448.0 533.0 L436.0 532.0Z"/></clipPath></defs><path d="M436.0 523.0 L452.0 525.0 L448.0 533.0 L436.0 532.0Z" fill="#dcdae7" opacity="0.9"/><g clip-path="url(#pc22)" stroke="#8a86a6" stroke-width="1" opacity="0.75"><path d="M430.4 534.0 l-3.6 -12.0"/><path d="M432.2 534.0 l-3.6 -12.0"/><path d="M434.4 534.0 l-3.6 -12.0"/><path d="M436.5 534.0 l-3.6 -12.0"/><path d="M438.8 534.0 l-3.6 -12.0"/><path d="M441.1 534.0 l-3.6 -12.0"/><path d="M443.6 534.0 l-3.6 -12.0"/><path d="M446.0 534.0 l-3.6 -12.0"/><path d="M447.7 534.0 l-3.6 -12.0"/><path d="M449.5 534.0 l-3.6 -12.0"/><path d="M451.2 534.0 l-3.6 -12.0"/><path d="M453.8 534.0 l-3.6 -12.0"/><path d="M455.5 534.0 l-3.6 -12.0"/></g>
<defs><clipPath id="pc23"><path d="M592.0 497.0 L612.0 496.0 L612.0 505.0 L592.0 506.0Z"/></clipPath></defs><path d="M592.0 497.0 L612.0 496.0 L612.0 505.0 L592.0 506.0Z" fill="#dcdae7" opacity="0.9"/><g clip-path="url(#pc23)" stroke="#8a86a6" stroke-width="1" opacity="0.75"><path d="M586.4 507.0 l3.6 -12.0"/><path d="M588.9 507.0 l3.6 -12.0"/><path d="M590.5 507.0 l3.6 -12.0"/><path d="M592.7 507.0 l3.6 -12.0"/><path d="M594.8 507.0 l3.6 -12.0"/><path d="M596.9 507.0 l3.6 -12.0"/><path d="M598.6 507.0 l3.6 -12.0"/><path d="M600.4 507.0 l3.6 -12.0"/><path d="M602.4 507.0 l3.6 -12.0"/><path d="M604.3 507.0 l3.6 -12.0"/><path d="M606.3 507.0 l3.6 -12.0"/><path d="M607.9 507.0 l3.6 -12.0"/><path d="M609.6 507.0 l3.6 -12.0"/><path d="M611.9 507.0 l3.6 -12.0"/><path d="M614.0 507.0 l3.6 -12.0"/><path d="M616.1 507.0 l3.6 -12.0"/></g>
<g stroke="#8f8aa8" stroke-width="1.3" opacity="0.6"><path d="M592.0 506.0 l-0.9 -10.0"/><path d="M594.5 506.0 l-0.9 -10.0"/><path d="M597.0 506.0 l-0.9 -10.0"/><path d="M599.5 506.0 l-0.9 -10.0"/><path d="M602.0 506.0 l-0.9 -10.0"/><path d="M604.5 506.0 l-0.9 -10.0"/><path d="M607.0 506.0 l-0.9 -10.0"/><path d="M609.5 506.0 l-0.9 -10.0"/></g>
<defs><clipPath id="pc24"><path d="M560.0 495.0 L575.0 493.0 L580.0 503.0 L565.0 508.0Z"/></clipPath></defs><path d="M560.0 495.0 L575.0 493.0 L580.0 503.0 L565.0 508.0Z" fill="#dcdae7" opacity="0.9"/><g clip-path="url(#pc24)" stroke="#8a86a6" stroke-width="1" opacity="0.75"><path d="M532.0 509.0 l-26.0 -17.0"/><path d="M534.0 509.0 l-26.0 -17.0"/><path d="M536.2 509.0 l-26.0 -17.0"/><path d="M538.0 509.0 l-26.0 -17.0"/><path d="M539.8 509.0 l-26.0 -17.0"/><path d="M541.5 509.0 l-26.0 -17.0"/><path d="M543.8 509.0 l-26.0 -17.0"/><path d="M546.1 509.0 l-26.0 -17.0"/><path d="M548.7 509.0 l-26.0 -17.0"/><path d="M551.1 509.0 l-26.0 -17.0"/><path d="M553.0 509.0 l-26.0 -17.0"/><path d="M555.5 509.0 l-26.0 -17.0"/><path d="M557.2 509.0 l-26.0 -17.0"/><path d="M559.2 509.0 l-26.0 -17.0"/><path d="M561.5 509.0 l-26.0 -17.0"/><path d="M563.8 509.0 l-26.0 -17.0"/><path d="M565.4 509.0 l-26.0 -17.0"/><path d="M567.2 509.0 l-26.0 -17.0"/><path d="M569.3 509.0 l-26.0 -17.0"/><path d="M571.7 509.0 l-26.0 -17.0"/><path d="M574.0 509.0 l-26.0 -17.0"/><path d="M576.1 509.0 l-26.0 -17.0"/><path d="M578.7 509.0 l-26.0 -17.0"/><path d="M581.0 509.0 l-26.0 -17.0"/><path d="M582.8 509.0 l-26.0 -17.0"/><path d="M585.0 509.0 l-26.0 -17.0"/><path d="M587.3 509.0 l-26.0 -17.0"/><path d="M589.9 509.0 l-26.0 -17.0"/><path d="M591.6 509.0 l-26.0 -17.0"/><path d="M593.8 509.0 l-26.0 -17.0"/><path d="M596.1 509.0 l-26.0 -17.0"/><path d="M597.7 509.0 l-26.0 -17.0"/><path d="M599.5 509.0 l-26.0 -17.0"/><path d="M601.4 509.0 l-26.0 -17.0"/><path d="M603.8 509.0 l-26.0 -17.0"/><path d="M605.7 509.0 l-26.0 -17.0"/><path d="M607.5 509.0 l-26.0 -17.0"/></g>
<defs><clipPath id="pc25"><path d="M564.0 507.0 L596.0 507.0 L590.0 518.0 L572.0 530.0 L563.0 520.0Z"/></clipPath></defs><path d="M564.0 507.0 L596.0 507.0 L590.0 518.0 L572.0 530.0 L563.0 520.0Z" fill="#dcdae7" opacity="0.9"/><g clip-path="url(#pc25)" stroke="#8a86a6" stroke-width="1" opacity="0.75"><path d="M544.9 531.0 l16.1 -25.0"/><path d="M547.3 531.0 l16.1 -25.0"/><path d="M549.7 531.0 l16.1 -25.0"/><path d="M551.3 531.0 l16.1 -25.0"/><path d="M553.9 531.0 l16.1 -25.0"/><path d="M555.8 531.0 l16.1 -25.0"/><path d="M557.8 531.0 l16.1 -25.0"/><path d="M560.3 531.0 l16.1 -25.0"/><path d="M562.6 531.0 l16.1 -25.0"/><path d="M564.3 531.0 l16.1 -25.0"/><path d="M566.4 531.0 l16.1 -25.0"/><path d="M568.1 531.0 l16.1 -25.0"/><path d="M570.6 531.0 l16.1 -25.0"/><path d="M572.8 531.0 l16.1 -25.0"/><path d="M575.1 531.0 l16.1 -25.0"/><path d="M576.9 531.0 l16.1 -25.0"/><path d="M579.5 531.0 l16.1 -25.0"/><path d="M582.0 531.0 l16.1 -25.0"/><path d="M583.9 531.0 l16.1 -25.0"/><path d="M586.4 531.0 l16.1 -25.0"/><path d="M588.6 531.0 l16.1 -25.0"/><path d="M590.7 531.0 l16.1 -25.0"/><path d="M592.8 531.0 l16.1 -25.0"/><path d="M595.3 531.0 l16.1 -25.0"/><path d="M597.8 531.0 l16.1 -25.0"/><path d="M600.0 531.0 l16.1 -25.0"/><path d="M602.2 531.0 l16.1 -25.0"/><path d="M604.2 531.0 l16.1 -25.0"/><path d="M606.1 531.0 l16.1 -25.0"/><path d="M608.4 531.0 l16.1 -25.0"/><path d="M610.6 531.0 l16.1 -25.0"/><path d="M612.3 531.0 l16.1 -25.0"/></g>
<defs><clipPath id="pc26"><path d="M695.0 525.0 L712.0 520.0 L714.0 540.0 L698.0 545.0Z"/></clipPath></defs><path d="M695.0 525.0 L712.0 520.0 L714.0 540.0 L698.0 545.0Z" fill="#dcdae7" opacity="0.9"/><g clip-path="url(#pc26)" stroke="#8a86a6" stroke-width="1" opacity="0.75"><path d="M649.7 546.0 l-43.3 -27.0"/><path d="M652.2 546.0 l-43.3 -27.0"/><path d="M654.5 546.0 l-43.3 -27.0"/><path d="M656.5 546.0 l-43.3 -27.0"/><path d="M658.6 546.0 l-43.3 -27.0"/><path d="M660.4 546.0 l-43.3 -27.0"/><path d="M662.9 546.0 l-43.3 -27.0"/><path d="M665.0 546.0 l-43.3 -27.0"/><path d="M667.3 546.0 l-43.3 -27.0"/><path d="M669.6 546.0 l-43.3 -27.0"/><path d="M671.3 546.0 l-43.3 -27.0"/><path d="M673.4 546.0 l-43.3 -27.0"/><path d="M675.2 546.0 l-43.3 -27.0"/><path d="M677.5 546.0 l-43.3 -27.0"/><path d="M679.9 546.0 l-43.3 -27.0"/><path d="M681.7 546.0 l-43.3 -27.0"/><path d="M684.0 546.0 l-43.3 -27.0"/><path d="M686.4 546.0 l-43.3 -27.0"/><path d="M688.7 546.0 l-43.3 -27.0"/><path d="M691.1 546.0 l-43.3 -27.0"/><path d="M692.9 546.0 l-43.3 -27.0"/><path d="M694.7 546.0 l-43.3 -27.0"/><path d="M696.8 546.0 l-43.3 -27.0"/><path d="M699.1 546.0 l-43.3 -27.0"/><path d="M701.1 546.0 l-43.3 -27.0"/><path d="M703.0 546.0 l-43.3 -27.0"/><path d="M705.2 546.0 l-43.3 -27.0"/><path d="M706.8 546.0 l-43.3 -27.0"/><path d="M709.1 546.0 l-43.3 -27.0"/><path d="M711.6 546.0 l-43.3 -27.0"/><path d="M713.7 546.0 l-43.3 -27.0"/><path d="M715.8 546.0 l-43.3 -27.0"/><path d="M718.1 546.0 l-43.3 -27.0"/><path d="M720.1 546.0 l-43.3 -27.0"/><path d="M722.4 546.0 l-43.3 -27.0"/><path d="M724.3 546.0 l-43.3 -27.0"/><path d="M726.2 546.0 l-43.3 -27.0"/><path d="M728.5 546.0 l-43.3 -27.0"/><path d="M730.5 546.0 l-43.3 -27.0"/><path d="M732.8 546.0 l-43.3 -27.0"/><path d="M734.5 546.0 l-43.3 -27.0"/><path d="M737.0 546.0 l-43.3 -27.0"/><path d="M738.8 546.0 l-43.3 -27.0"/><path d="M741.0 546.0 l-43.3 -27.0"/><path d="M743.5 546.0 l-43.3 -27.0"/><path d="M745.7 546.0 l-43.3 -27.0"/><path d="M747.5 546.0 l-43.3 -27.0"/><path d="M749.2 546.0 l-43.3 -27.0"/><path d="M750.9 546.0 l-43.3 -27.0"/><path d="M753.0 546.0 l-43.3 -27.0"/><path d="M755.4 546.0 l-43.3 -27.0"/><path d="M757.1 546.0 l-43.3 -27.0"/><path d="M758.9 546.0 l-43.3 -27.0"/></g>
<defs><clipPath id="pc27"><path d="M676.0 423.0 L698.0 420.0 L712.0 431.0 L700.0 440.0 L680.0 437.0Z"/></clipPath></defs><path d="M676.0 423.0 L698.0 420.0 L712.0 431.0 L700.0 440.0 L680.0 437.0Z" fill="#dcdae7" opacity="0.9"/><g clip-path="url(#pc27)" stroke="#8a86a6" stroke-width="1" opacity="0.75"><path d="M639.4 441.0 l-34.6 -22.0"/><path d="M641.4 441.0 l-34.6 -22.0"/><path d="M643.3 441.0 l-34.6 -22.0"/><path d="M645.2 441.0 l-34.6 -22.0"/><path d="M646.9 441.0 l-34.6 -22.0"/><path d="M648.7 441.0 l-34.6 -22.0"/><path d="M650.9 441.0 l-34.6 -22.0"/><path d="M652.7 441.0 l-34.6 -22.0"/><path d="M655.2 441.0 l-34.6 -22.0"/><path d="M657.2 441.0 l-34.6 -22.0"/><path d="M659.0 441.0 l-34.6 -22.0"/><path d="M660.8 441.0 l-34.6 -22.0"/><path d="M663.3 441.0 l-34.6 -22.0"/><path d="M665.6 441.0 l-34.6 -22.0"/><path d="M667.8 441.0 l-34.6 -22.0"/><path d="M670.1 441.0 l-34.6 -22.0"/><path d="M672.3 441.0 l-34.6 -22.0"/><path d="M674.3 441.0 l-34.6 -22.0"/><path d="M676.3 441.0 l-34.6 -22.0"/><path d="M678.0 441.0 l-34.6 -22.0"/><path d="M680.0 441.0 l-34.6 -22.0"/><path d="M682.0 441.0 l-34.6 -22.0"/><path d="M684.4 441.0 l-34.6 -22.0"/><path d="M686.8 441.0 l-34.6 -22.0"/><path d="M688.9 441.0 l-34.6 -22.0"/><path d="M690.7 441.0 l-34.6 -22.0"/><path d="M693.2 441.0 l-34.6 -22.0"/><path d="M695.4 441.0 l-34.6 -22.0"/><path d="M697.2 441.0 l-34.6 -22.0"/><path d="M699.7 441.0 l-34.6 -22.0"/><path d="M701.4 441.0 l-34.6 -22.0"/><path d="M704.0 441.0 l-34.6 -22.0"/><path d="M706.3 441.0 l-34.6 -22.0"/><path d="M708.8 441.0 l-34.6 -22.0"/><path d="M711.2 441.0 l-34.6 -22.0"/><path d="M712.9 441.0 l-34.6 -22.0"/><path d="M715.1 441.0 l-34.6 -22.0"/><path d="M716.8 441.0 l-34.6 -22.0"/><path d="M718.9 441.0 l-34.6 -22.0"/><path d="M720.6 441.0 l-34.6 -22.0"/><path d="M722.8 441.0 l-34.6 -22.0"/><path d="M724.4 441.0 l-34.6 -22.0"/><path d="M727.0 441.0 l-34.6 -22.0"/><path d="M729.3 441.0 l-34.6 -22.0"/><path d="M731.3 441.0 l-34.6 -22.0"/><path d="M733.1 441.0 l-34.6 -22.0"/><path d="M735.6 441.0 l-34.6 -22.0"/><path d="M737.7 441.0 l-34.6 -22.0"/><path d="M739.4 441.0 l-34.6 -22.0"/><path d="M742.0 441.0 l-34.6 -22.0"/><path d="M744.5 441.0 l-34.6 -22.0"/><path d="M746.5 441.0 l-34.6 -22.0"/><path d="M748.1 441.0 l-34.6 -22.0"/></g>
<defs><clipPath id="pc28"><path d="M695.0 548.0 L712.0 548.0 L712.0 565.0 L700.0 565.0Z"/></clipPath></defs><path d="M695.0 548.0 L712.0 548.0 L712.0 565.0 L700.0 565.0Z" fill="#dcdae7" opacity="0.9"/><g clip-path="url(#pc28)" stroke="#8a86a6" stroke-width="1" opacity="0.75"><path d="M681.1 566.0 l-11.9 -19.0"/><path d="M683.4 566.0 l-11.9 -19.0"/><path d="M685.6 566.0 l-11.9 -19.0"/><path d="M687.9 566.0 l-11.9 -19.0"/><path d="M689.7 566.0 l-11.9 -19.0"/><path d="M692.0 566.0 l-11.9 -19.0"/><path d="M694.3 566.0 l-11.9 -19.0"/><path d="M696.1 566.0 l-11.9 -19.0"/><path d="M697.9 566.0 l-11.9 -19.0"/><path d="M699.6 566.0 l-11.9 -19.0"/><path d="M702.2 566.0 l-11.9 -19.0"/><path d="M704.4 566.0 l-11.9 -19.0"/><path d="M706.2 566.0 l-11.9 -19.0"/><path d="M708.2 566.0 l-11.9 -19.0"/><path d="M709.9 566.0 l-11.9 -19.0"/><path d="M711.9 566.0 l-11.9 -19.0"/><path d="M714.4 566.0 l-11.9 -19.0"/><path d="M716.7 566.0 l-11.9 -19.0"/><path d="M719.1 566.0 l-11.9 -19.0"/><path d="M720.9 566.0 l-11.9 -19.0"/><path d="M723.4 566.0 l-11.9 -19.0"/><path d="M725.6 566.0 l-11.9 -19.0"/></g>
<g stroke="#b5b2c9" stroke-width="2.2" stroke-linecap="round"><path d="M440 590 L460 590"/><path d="M636 590 L660 589"/><path d="M676 585 L690 585"/><path d="M650 597 L664 597"/></g>
<path d="M428.5 562 L451 552.7 L464.8 565.2 L447 585 Z" fill="#1f1b34"/>
<path d="M435 562 L450 556.5 L458 564 L446 577 Z" fill="#fbfbfc"/>
<path d="M440 568 L455 566" stroke="#1f1b34" stroke-width="3"/>
<path d="M465 531 L563 519 L566 578 L467 582 Z" fill="#fbfbfc" stroke="#1f1b34" stroke-width="6.5" stroke-linejoin="round"/>
<path d="M473.5 497.5 L544.5 493.5 L546 545 L475 548 Z" fill="#fbfbfc" stroke="#1f1b34" stroke-width="4" stroke-linejoin="round"/>
<g stroke="#1f1b34" stroke-width="3" stroke-linecap="round"><path d="M486 508.5 L528 506"/><path d="M486 514 L495 514"/><path d="M502 513 L526 512"/><path d="M488 521 L532 519"/><path d="M492 528 L530 526.5"/></g>
<path d="M467 534 L517 553 L562 522 L564 577 L469 580 Z" fill="#fbfbfc"/>
<g stroke="#9a96b2" stroke-width="1.3" opacity="0.6"><path d="M532.0 570.0 l-17.3 -30.0"/><path d="M534.5 570.0 l-17.3 -30.0"/><path d="M537.1 570.0 l-17.3 -30.0"/><path d="M539.6 570.0 l-17.3 -30.0"/><path d="M542.2 570.0 l-17.3 -30.0"/><path d="M544.7 570.0 l-17.3 -30.0"/><path d="M547.3 570.0 l-17.3 -30.0"/><path d="M549.8 570.0 l-17.3 -30.0"/><path d="M552.4 570.0 l-17.3 -30.0"/><path d="M554.9 570.0 l-17.3 -30.0"/><path d="M557.5 570.0 l-17.3 -30.0"/></g>
<path d="M465 531 L467 582 L566 578 L563 519" fill="none" stroke="#1f1b34" stroke-width="6.5" stroke-linejoin="round" stroke-linecap="round"/>
<path d="M467 534 L517 553 L562 522" fill="none" stroke="#1f1b34" stroke-width="5" stroke-linejoin="round"/>
<path d="M472 572 L562 568" stroke="#1f1b34" stroke-width="2"/>
<circle cx="517" cy="550.5" r="12.5" fill="#fbfbfc" stroke="#1f1b34" stroke-width="4.5"/>
<path d="M513 545 Q518 541 520 546 Q518 550 514 549 L516 557 M516 550 L522 555" stroke="#38277c" stroke-width="3.2" fill="none" stroke-linecap="round"/>
<g stroke="#1f1b34" stroke-width="2.2" stroke-linecap="round"><path d="M505 590 L545 587"/><path d="M515 595 L560 591"/></g>
<path d="M668 510 L668 500 Q668 493 675 493 Q682 493 682 500 L682 510" fill="none" stroke="#1f1b34" stroke-width="4.5"/>
<rect x="656" y="510.5" width="36" height="60" rx="4" fill="#fbfbfc" stroke="#1f1b34" stroke-width="5" />
<g stroke="#8f8aa8" stroke-width="2"><path d="M662 521 L684 521"/><path d="M664 526 L682 526"/><path d="M664 531 L682 531"/><path d="M664 536 L680 536"/><path d="M664 541 L682 541"/><path d="M664 546 L676 546"/></g>
<path d="M661 520 L686 520" stroke="#1f1b34" stroke-width="2.5"/>
<g stroke="#1f1b34" stroke-width="4.5" fill="none" stroke-linecap="round" stroke-linejoin="round"><path d="M604 534 L588 531 L580 534 L579 540"/><path d="M604 546 L588 547 L582 550 L581 564"/><path d="M611 559 L598 570 L596 584 L603 584"/><path d="M648 560 L654 574 L655 584 L663 584"/><path d="M656 550 L668 560 L668 575"/><path d="M610 576 L646 575"/></g>
<defs><radialGradient id="spg" cx="0.4" cy="0.35" r="0.7"><stop offset="0" stop-color="#3a2675"/><stop offset="1" stop-color="#221a44"/></radialGradient></defs>
<circle cx="631" cy="539" r="29" fill="url(#spg)" stroke="#1f1b34" stroke-width="2"/>
<path d="M612 533 Q618 533 626 541 Q625 547 619 546 Q612 542 612 533 Z" fill="#fff"/>
<path d="M650 533 Q644 533 637 541 Q638 547 644 546 Q650 542 650 533 Z" fill="#fff"/>
<path d="M617 538 Q620 540 622 543" stroke="#1f1b34" stroke-width="2.5"/><path d="M645 538 Q642 540 640 543" stroke="#1f1b34" stroke-width="2.5"/>
<path d="M627 555 L630 548 L634 548 L636 555 Z" fill="#fff"/>
<path d="M620 517 Q632 508 645 516" stroke="#6a58a8" stroke-width="1.5" fill="none"/>
<defs><clipPath id="pc29"><path d="M166.0 655.0 L198.0 650.0 L200.0 668.0 L170.0 670.0Z"/></clipPath></defs><path d="M166.0 655.0 L198.0 650.0 L200.0 668.0 L170.0 670.0Z" fill="#dcdae7" opacity="0.9"/><g clip-path="url(#pc29)" stroke="#8a86a6" stroke-width="1" opacity="0.75"><path d="M129.4 671.0 l34.6 -22.0"/><path d="M131.0 671.0 l34.6 -22.0"/><path d="M133.2 671.0 l34.6 -22.0"/><path d="M135.4 671.0 l34.6 -22.0"/><path d="M137.1 671.0 l34.6 -22.0"/><path d="M139.7 671.0 l34.6 -22.0"/><path d="M141.6 671.0 l34.6 -22.0"/><path d="M143.3 671.0 l34.6 -22.0"/><path d="M144.9 671.0 l34.6 -22.0"/><path d="M147.3 671.0 l34.6 -22.0"/><path d="M149.6 671.0 l34.6 -22.0"/><path d="M152.0 671.0 l34.6 -22.0"/><path d="M153.7 671.0 l34.6 -22.0"/><path d="M155.8 671.0 l34.6 -22.0"/><path d="M158.3 671.0 l34.6 -22.0"/><path d="M160.4 671.0 l34.6 -22.0"/><path d="M162.9 671.0 l34.6 -22.0"/><path d="M164.7 671.0 l34.6 -22.0"/><path d="M167.3 671.0 l34.6 -22.0"/><path d="M169.1 671.0 l34.6 -22.0"/><path d="M171.5 671.0 l34.6 -22.0"/><path d="M173.7 671.0 l34.6 -22.0"/><path d="M176.0 671.0 l34.6 -22.0"/><path d="M178.1 671.0 l34.6 -22.0"/><path d="M180.3 671.0 l34.6 -22.0"/><path d="M182.3 671.0 l34.6 -22.0"/><path d="M184.2 671.0 l34.6 -22.0"/><path d="M186.5 671.0 l34.6 -22.0"/><path d="M189.0 671.0 l34.6 -22.0"/><path d="M191.5 671.0 l34.6 -22.0"/><path d="M193.6 671.0 l34.6 -22.0"/><path d="M195.3 671.0 l34.6 -22.0"/><path d="M197.2 671.0 l34.6 -22.0"/><path d="M199.1 671.0 l34.6 -22.0"/><path d="M201.4 671.0 l34.6 -22.0"/><path d="M203.5 671.0 l34.6 -22.0"/><path d="M205.9 671.0 l34.6 -22.0"/><path d="M208.4 671.0 l34.6 -22.0"/><path d="M210.9 671.0 l34.6 -22.0"/><path d="M213.2 671.0 l34.6 -22.0"/><path d="M215.7 671.0 l34.6 -22.0"/><path d="M218.2 671.0 l34.6 -22.0"/><path d="M220.0 671.0 l34.6 -22.0"/><path d="M222.3 671.0 l34.6 -22.0"/><path d="M224.7 671.0 l34.6 -22.0"/><path d="M226.9 671.0 l34.6 -22.0"/><path d="M228.6 671.0 l34.6 -22.0"/><path d="M230.9 671.0 l34.6 -22.0"/><path d="M232.9 671.0 l34.6 -22.0"/><path d="M234.8 671.0 l34.6 -22.0"/></g>
<g stroke="#8f8aa8" stroke-width="1.3" opacity="0.6"><path d="M168.0 668.0 l-5.8 -16.0"/><path d="M170.5 668.0 l-5.8 -16.0"/><path d="M173.0 668.0 l-5.8 -16.0"/><path d="M175.5 668.0 l-5.8 -16.0"/><path d="M178.0 668.0 l-5.8 -16.0"/><path d="M180.5 668.0 l-5.8 -16.0"/><path d="M183.0 668.0 l-5.8 -16.0"/><path d="M185.5 668.0 l-5.8 -16.0"/><path d="M188.0 668.0 l-5.8 -16.0"/><path d="M190.5 668.0 l-5.8 -16.0"/><path d="M193.0 668.0 l-5.8 -16.0"/><path d="M195.5 668.0 l-5.8 -16.0"/></g>
<defs><clipPath id="pc30"><path d="M208.0 655.0 L226.0 655.0 L226.0 662.0 L208.0 662.0Z"/></clipPath></defs><path d="M208.0 655.0 L226.0 655.0 L226.0 662.0 L208.0 662.0Z" fill="#dcdae7" opacity="0.9"/><g clip-path="url(#pc30)" stroke="#8a86a6" stroke-width="1" opacity="0.75"><path d="M193.9 663.0 l12.1 -9.0"/><path d="M196.3 663.0 l12.1 -9.0"/><path d="M198.5 663.0 l12.1 -9.0"/><path d="M200.7 663.0 l12.1 -9.0"/><path d="M203.1 663.0 l12.1 -9.0"/><path d="M205.7 663.0 l12.1 -9.0"/><path d="M207.4 663.0 l12.1 -9.0"/><path d="M209.3 663.0 l12.1 -9.0"/><path d="M211.1 663.0 l12.1 -9.0"/><path d="M212.8 663.0 l12.1 -9.0"/><path d="M214.4 663.0 l12.1 -9.0"/><path d="M216.5 663.0 l12.1 -9.0"/><path d="M219.0 663.0 l12.1 -9.0"/><path d="M220.6 663.0 l12.1 -9.0"/><path d="M223.2 663.0 l12.1 -9.0"/><path d="M225.8 663.0 l12.1 -9.0"/><path d="M228.2 663.0 l12.1 -9.0"/><path d="M230.3 663.0 l12.1 -9.0"/><path d="M232.3 663.0 l12.1 -9.0"/><path d="M234.7 663.0 l12.1 -9.0"/><path d="M236.7 663.0 l12.1 -9.0"/><path d="M239.2 663.0 l12.1 -9.0"/></g>
<defs><clipPath id="pc31"><path d="M222.0 650.0 L252.0 648.0 L256.0 664.0 L232.0 670.0Z"/></clipPath></defs><path d="M222.0 650.0 L252.0 648.0 L256.0 664.0 L232.0 670.0Z" fill="#dcdae7" opacity="0.9"/><g clip-path="url(#pc31)" stroke="#8a86a6" stroke-width="1" opacity="0.75"><path d="M204.6 671.0 l-15.4 -24.0"/><path d="M206.7 671.0 l-15.4 -24.0"/><path d="M209.0 671.0 l-15.4 -24.0"/><path d="M210.8 671.0 l-15.4 -24.0"/><path d="M212.4 671.0 l-15.4 -24.0"/><path d="M215.0 671.0 l-15.4 -24.0"/><path d="M217.1 671.0 l-15.4 -24.0"/><path d="M219.4 671.0 l-15.4 -24.0"/><path d="M221.1 671.0 l-15.4 -24.0"/><path d="M223.7 671.0 l-15.4 -24.0"/><path d="M225.4 671.0 l-15.4 -24.0"/><path d="M227.0 671.0 l-15.4 -24.0"/><path d="M228.9 671.0 l-15.4 -24.0"/><path d="M231.2 671.0 l-15.4 -24.0"/><path d="M233.3 671.0 l-15.4 -24.0"/><path d="M235.1 671.0 l-15.4 -24.0"/><path d="M237.3 671.0 l-15.4 -24.0"/><path d="M239.0 671.0 l-15.4 -24.0"/><path d="M241.4 671.0 l-15.4 -24.0"/><path d="M243.9 671.0 l-15.4 -24.0"/><path d="M245.8 671.0 l-15.4 -24.0"/><path d="M247.6 671.0 l-15.4 -24.0"/><path d="M249.6 671.0 l-15.4 -24.0"/><path d="M251.8 671.0 l-15.4 -24.0"/><path d="M253.7 671.0 l-15.4 -24.0"/><path d="M256.0 671.0 l-15.4 -24.0"/><path d="M258.0 671.0 l-15.4 -24.0"/><path d="M260.3 671.0 l-15.4 -24.0"/><path d="M261.9 671.0 l-15.4 -24.0"/><path d="M263.6 671.0 l-15.4 -24.0"/><path d="M265.4 671.0 l-15.4 -24.0"/><path d="M267.1 671.0 l-15.4 -24.0"/><path d="M268.8 671.0 l-15.4 -24.0"/><path d="M271.2 671.0 l-15.4 -24.0"/><path d="M273.2 671.0 l-15.4 -24.0"/></g>
<g stroke="#8f8aa8" stroke-width="1.3" opacity="0.6"><path d="M224.0 668.0 l-6.6 -18.0"/><path d="M226.5 668.0 l-6.6 -18.0"/><path d="M229.0 668.0 l-6.6 -18.0"/><path d="M231.5 668.0 l-6.6 -18.0"/><path d="M234.0 668.0 l-6.6 -18.0"/><path d="M236.5 668.0 l-6.6 -18.0"/><path d="M239.0 668.0 l-6.6 -18.0"/><path d="M241.5 668.0 l-6.6 -18.0"/><path d="M244.0 668.0 l-6.6 -18.0"/><path d="M246.5 668.0 l-6.6 -18.0"/><path d="M249.0 668.0 l-6.6 -18.0"/><path d="M251.5 668.0 l-6.6 -18.0"/></g>
<defs><clipPath id="pc32"><path d="M300.0 660.0 L324.0 658.0 L326.0 686.0 L306.0 690.0Z"/></clipPath></defs><path d="M300.0 660.0 L324.0 658.0 L326.0 686.0 L306.0 690.0Z" fill="#dcdae7" opacity="0.9"/><g clip-path="url(#pc32)" stroke="#8a86a6" stroke-width="1" opacity="0.75"><path d="M275.6 691.0 l-22.4 -34.0"/><path d="M278.1 691.0 l-22.4 -34.0"/><path d="M279.9 691.0 l-22.4 -34.0"/><path d="M282.2 691.0 l-22.4 -34.0"/><path d="M284.0 691.0 l-22.4 -34.0"/><path d="M285.6 691.0 l-22.4 -34.0"/><path d="M287.3 691.0 l-22.4 -34.0"/><path d="M289.2 691.0 l-22.4 -34.0"/><path d="M291.1 691.0 l-22.4 -34.0"/><path d="M292.8 691.0 l-22.4 -34.0"/><path d="M295.1 691.0 l-22.4 -34.0"/><path d="M297.7 691.0 l-22.4 -34.0"/><path d="M299.7 691.0 l-22.4 -34.0"/><path d="M301.9 691.0 l-22.4 -34.0"/><path d="M304.1 691.0 l-22.4 -34.0"/><path d="M306.5 691.0 l-22.4 -34.0"/><path d="M308.6 691.0 l-22.4 -34.0"/><path d="M310.7 691.0 l-22.4 -34.0"/><path d="M313.0 691.0 l-22.4 -34.0"/><path d="M314.8 691.0 l-22.4 -34.0"/><path d="M316.7 691.0 l-22.4 -34.0"/><path d="M319.3 691.0 l-22.4 -34.0"/><path d="M321.3 691.0 l-22.4 -34.0"/><path d="M323.2 691.0 l-22.4 -34.0"/><path d="M324.9 691.0 l-22.4 -34.0"/><path d="M327.0 691.0 l-22.4 -34.0"/><path d="M329.3 691.0 l-22.4 -34.0"/><path d="M331.4 691.0 l-22.4 -34.0"/><path d="M333.4 691.0 l-22.4 -34.0"/><path d="M335.9 691.0 l-22.4 -34.0"/><path d="M338.1 691.0 l-22.4 -34.0"/><path d="M339.9 691.0 l-22.4 -34.0"/><path d="M342.0 691.0 l-22.4 -34.0"/><path d="M344.3 691.0 l-22.4 -34.0"/><path d="M346.4 691.0 l-22.4 -34.0"/><path d="M348.5 691.0 l-22.4 -34.0"/></g>
<defs><clipPath id="pc33"><path d="M304.0 700.0 L326.0 692.0 L330.0 712.0 L310.0 716.0Z"/></clipPath></defs><path d="M304.0 700.0 L326.0 692.0 L330.0 712.0 L310.0 716.0Z" fill="#dcdae7" opacity="0.9"/><g clip-path="url(#pc33)" stroke="#8a86a6" stroke-width="1" opacity="0.75"><path d="M260.4 717.0 l41.6 -26.0"/><path d="M262.2 717.0 l41.6 -26.0"/><path d="M264.0 717.0 l41.6 -26.0"/><path d="M266.5 717.0 l41.6 -26.0"/><path d="M268.6 717.0 l41.6 -26.0"/><path d="M271.0 717.0 l41.6 -26.0"/><path d="M273.2 717.0 l41.6 -26.0"/><path d="M275.3 717.0 l41.6 -26.0"/><path d="M277.9 717.0 l41.6 -26.0"/><path d="M280.4 717.0 l41.6 -26.0"/><path d="M282.9 717.0 l41.6 -26.0"/><path d="M284.8 717.0 l41.6 -26.0"/><path d="M287.1 717.0 l41.6 -26.0"/><path d="M289.2 717.0 l41.6 -26.0"/><path d="M291.1 717.0 l41.6 -26.0"/><path d="M293.4 717.0 l41.6 -26.0"/><path d="M295.0 717.0 l41.6 -26.0"/><path d="M297.0 717.0 l41.6 -26.0"/><path d="M299.2 717.0 l41.6 -26.0"/><path d="M301.7 717.0 l41.6 -26.0"/><path d="M304.0 717.0 l41.6 -26.0"/><path d="M306.5 717.0 l41.6 -26.0"/><path d="M308.7 717.0 l41.6 -26.0"/><path d="M311.2 717.0 l41.6 -26.0"/><path d="M313.0 717.0 l41.6 -26.0"/><path d="M315.0 717.0 l41.6 -26.0"/><path d="M317.3 717.0 l41.6 -26.0"/><path d="M319.2 717.0 l41.6 -26.0"/><path d="M321.6 717.0 l41.6 -26.0"/><path d="M323.6 717.0 l41.6 -26.0"/><path d="M326.0 717.0 l41.6 -26.0"/><path d="M328.6 717.0 l41.6 -26.0"/><path d="M331.2 717.0 l41.6 -26.0"/><path d="M332.9 717.0 l41.6 -26.0"/><path d="M334.9 717.0 l41.6 -26.0"/><path d="M337.1 717.0 l41.6 -26.0"/><path d="M339.5 717.0 l41.6 -26.0"/><path d="M341.6 717.0 l41.6 -26.0"/><path d="M343.5 717.0 l41.6 -26.0"/><path d="M345.5 717.0 l41.6 -26.0"/><path d="M347.7 717.0 l41.6 -26.0"/><path d="M349.9 717.0 l41.6 -26.0"/><path d="M351.9 717.0 l41.6 -26.0"/><path d="M354.2 717.0 l41.6 -26.0"/><path d="M356.6 717.0 l41.6 -26.0"/><path d="M358.6 717.0 l41.6 -26.0"/><path d="M360.8 717.0 l41.6 -26.0"/><path d="M363.1 717.0 l41.6 -26.0"/><path d="M365.6 717.0 l41.6 -26.0"/><path d="M367.2 717.0 l41.6 -26.0"/><path d="M368.9 717.0 l41.6 -26.0"/><path d="M371.3 717.0 l41.6 -26.0"/><path d="M372.9 717.0 l41.6 -26.0"/></g>
<defs><clipPath id="pc34"><path d="M60.0 700.0 L80.0 698.0 L84.0 720.0 L64.0 728.0Z"/></clipPath></defs><path d="M60.0 700.0 L80.0 698.0 L84.0 720.0 L64.0 728.0Z" fill="#dcdae7" opacity="0.9"/><g clip-path="url(#pc34)" stroke="#8a86a6" stroke-width="1" opacity="0.75"><path d="M6.0 729.0 l52.0 -32.0"/><path d="M8.0 729.0 l52.0 -32.0"/><path d="M9.6 729.0 l52.0 -32.0"/><path d="M11.5 729.0 l52.0 -32.0"/><path d="M13.1 729.0 l52.0 -32.0"/><path d="M15.1 729.0 l52.0 -32.0"/><path d="M17.6 729.0 l52.0 -32.0"/><path d="M19.3 729.0 l52.0 -32.0"/><path d="M21.8 729.0 l52.0 -32.0"/><path d="M23.8 729.0 l52.0 -32.0"/><path d="M26.0 729.0 l52.0 -32.0"/><path d="M28.4 729.0 l52.0 -32.0"/><path d="M30.1 729.0 l52.0 -32.0"/><path d="M32.0 729.0 l52.0 -32.0"/><path d="M33.6 729.0 l52.0 -32.0"/><path d="M35.4 729.0 l52.0 -32.0"/><path d="M37.5 729.0 l52.0 -32.0"/><path d="M39.9 729.0 l52.0 -32.0"/><path d="M41.9 729.0 l52.0 -32.0"/><path d="M44.2 729.0 l52.0 -32.0"/><path d="M46.5 729.0 l52.0 -32.0"/><path d="M48.2 729.0 l52.0 -32.0"/><path d="M50.2 729.0 l52.0 -32.0"/><path d="M51.9 729.0 l52.0 -32.0"/><path d="M54.4 729.0 l52.0 -32.0"/><path d="M56.3 729.0 l52.0 -32.0"/><path d="M58.3 729.0 l52.0 -32.0"/><path d="M60.1 729.0 l52.0 -32.0"/><path d="M62.2 729.0 l52.0 -32.0"/><path d="M64.0 729.0 l52.0 -32.0"/><path d="M65.7 729.0 l52.0 -32.0"/><path d="M68.0 729.0 l52.0 -32.0"/><path d="M70.1 729.0 l52.0 -32.0"/><path d="M72.0 729.0 l52.0 -32.0"/><path d="M74.3 729.0 l52.0 -32.0"/><path d="M76.0 729.0 l52.0 -32.0"/><path d="M78.3 729.0 l52.0 -32.0"/><path d="M79.9 729.0 l52.0 -32.0"/><path d="M82.0 729.0 l52.0 -32.0"/><path d="M84.0 729.0 l52.0 -32.0"/><path d="M86.2 729.0 l52.0 -32.0"/><path d="M88.7 729.0 l52.0 -32.0"/><path d="M90.5 729.0 l52.0 -32.0"/><path d="M92.3 729.0 l52.0 -32.0"/><path d="M94.6 729.0 l52.0 -32.0"/><path d="M97.1 729.0 l52.0 -32.0"/><path d="M99.2 729.0 l52.0 -32.0"/><path d="M101.7 729.0 l52.0 -32.0"/><path d="M103.8 729.0 l52.0 -32.0"/><path d="M106.2 729.0 l52.0 -32.0"/><path d="M108.3 729.0 l52.0 -32.0"/><path d="M110.8 729.0 l52.0 -32.0"/><path d="M112.8 729.0 l52.0 -32.0"/><path d="M114.8 729.0 l52.0 -32.0"/><path d="M116.5 729.0 l52.0 -32.0"/><path d="M118.3 729.0 l52.0 -32.0"/><path d="M120.2 729.0 l52.0 -32.0"/><path d="M122.7 729.0 l52.0 -32.0"/><path d="M124.8 729.0 l52.0 -32.0"/><path d="M127.0 729.0 l52.0 -32.0"/><path d="M128.9 729.0 l52.0 -32.0"/><path d="M131.5 729.0 l52.0 -32.0"/><path d="M133.5 729.0 l52.0 -32.0"/><path d="M135.9 729.0 l52.0 -32.0"/></g>
<g stroke="#8f8aa8" stroke-width="1.3" opacity="0.5"><path d="M60.0 726.0 l-13.1 -28.0"/><path d="M62.7 726.0 l-13.1 -28.0"/><path d="M65.3 726.0 l-13.1 -28.0"/><path d="M68.0 726.0 l-13.1 -28.0"/><path d="M70.7 726.0 l-13.1 -28.0"/><path d="M73.3 726.0 l-13.1 -28.0"/><path d="M76.0 726.0 l-13.1 -28.0"/><path d="M78.7 726.0 l-13.1 -28.0"/><path d="M81.3 726.0 l-13.1 -28.0"/></g>
<defs><clipPath id="pc35"><path d="M70.0 735.0 L90.0 733.0 L92.0 748.0 L72.0 752.0Z"/></clipPath></defs><path d="M70.0 735.0 L90.0 733.0 L92.0 748.0 L72.0 752.0Z" fill="#dcdae7" opacity="0.9"/><g clip-path="url(#pc35)" stroke="#8a86a6" stroke-width="1" opacity="0.75"><path d="M35.1 753.0 l32.9 -21.0"/><path d="M37.0 753.0 l32.9 -21.0"/><path d="M38.8 753.0 l32.9 -21.0"/><path d="M40.7 753.0 l32.9 -21.0"/><path d="M42.5 753.0 l32.9 -21.0"/><path d="M44.5 753.0 l32.9 -21.0"/><path d="M46.3 753.0 l32.9 -21.0"/><path d="M48.0 753.0 l32.9 -21.0"/><path d="M50.1 753.0 l32.9 -21.0"/><path d="M52.6 753.0 l32.9 -21.0"/><path d="M55.0 753.0 l32.9 -21.0"/><path d="M57.2 753.0 l32.9 -21.0"/><path d="M59.6 753.0 l32.9 -21.0"/><path d="M62.2 753.0 l32.9 -21.0"/><path d="M64.7 753.0 l32.9 -21.0"/><path d="M66.4 753.0 l32.9 -21.0"/><path d="M68.0 753.0 l32.9 -21.0"/><path d="M70.1 753.0 l32.9 -21.0"/><path d="M71.8 753.0 l32.9 -21.0"/><path d="M73.9 753.0 l32.9 -21.0"/><path d="M76.2 753.0 l32.9 -21.0"/><path d="M78.2 753.0 l32.9 -21.0"/><path d="M80.3 753.0 l32.9 -21.0"/><path d="M81.9 753.0 l32.9 -21.0"/><path d="M84.5 753.0 l32.9 -21.0"/><path d="M86.2 753.0 l32.9 -21.0"/><path d="M88.1 753.0 l32.9 -21.0"/><path d="M90.3 753.0 l32.9 -21.0"/><path d="M92.3 753.0 l32.9 -21.0"/><path d="M94.3 753.0 l32.9 -21.0"/><path d="M96.2 753.0 l32.9 -21.0"/><path d="M98.4 753.0 l32.9 -21.0"/><path d="M100.6 753.0 l32.9 -21.0"/><path d="M102.4 753.0 l32.9 -21.0"/><path d="M104.7 753.0 l32.9 -21.0"/><path d="M106.7 753.0 l32.9 -21.0"/><path d="M109.2 753.0 l32.9 -21.0"/><path d="M111.1 753.0 l32.9 -21.0"/><path d="M113.3 753.0 l32.9 -21.0"/><path d="M114.9 753.0 l32.9 -21.0"/><path d="M117.3 753.0 l32.9 -21.0"/><path d="M119.7 753.0 l32.9 -21.0"/><path d="M121.7 753.0 l32.9 -21.0"/><path d="M123.9 753.0 l32.9 -21.0"/><path d="M125.5 753.0 l32.9 -21.0"/></g>
<defs><clipPath id="pc36"><path d="M95.0 748.0 L118.0 746.0 L120.0 760.0 L98.0 762.0Z"/></clipPath></defs><path d="M95.0 748.0 L118.0 746.0 L120.0 760.0 L98.0 762.0Z" fill="#dcdae7" opacity="0.9"/><g clip-path="url(#pc36)" stroke="#8a86a6" stroke-width="1" opacity="0.75"><path d="M87.2 763.0 l5.8 -18.0"/><path d="M88.8 763.0 l5.8 -18.0"/><path d="M90.5 763.0 l5.8 -18.0"/><path d="M92.9 763.0 l5.8 -18.0"/><path d="M95.4 763.0 l5.8 -18.0"/><path d="M97.3 763.0 l5.8 -18.0"/><path d="M98.9 763.0 l5.8 -18.0"/><path d="M101.0 763.0 l5.8 -18.0"/><path d="M102.8 763.0 l5.8 -18.0"/><path d="M104.7 763.0 l5.8 -18.0"/><path d="M106.9 763.0 l5.8 -18.0"/><path d="M108.9 763.0 l5.8 -18.0"/><path d="M110.8 763.0 l5.8 -18.0"/><path d="M112.4 763.0 l5.8 -18.0"/><path d="M114.4 763.0 l5.8 -18.0"/><path d="M116.5 763.0 l5.8 -18.0"/><path d="M118.5 763.0 l5.8 -18.0"/><path d="M120.9 763.0 l5.8 -18.0"/><path d="M122.9 763.0 l5.8 -18.0"/><path d="M124.7 763.0 l5.8 -18.0"/><path d="M126.5 763.0 l5.8 -18.0"/></g>
<defs><clipPath id="pc37"><path d="M280.0 745.0 L296.0 742.0 L292.0 760.0 L278.0 758.0Z"/></clipPath></defs><path d="M280.0 745.0 L296.0 742.0 L292.0 760.0 L278.0 758.0Z" fill="#dcdae7" opacity="0.9"/><g clip-path="url(#pc37)" stroke="#8a86a6" stroke-width="1" opacity="0.75"><path d="M244.8 761.0 l-31.2 -20.0"/><path d="M247.0 761.0 l-31.2 -20.0"/><path d="M249.6 761.0 l-31.2 -20.0"/><path d="M251.8 761.0 l-31.2 -20.0"/><path d="M254.2 761.0 l-31.2 -20.0"/><path d="M256.4 761.0 l-31.2 -20.0"/><path d="M258.0 761.0 l-31.2 -20.0"/><path d="M260.6 761.0 l-31.2 -20.0"/><path d="M262.7 761.0 l-31.2 -20.0"/><path d="M265.1 761.0 l-31.2 -20.0"/><path d="M267.6 761.0 l-31.2 -20.0"/><path d="M269.7 761.0 l-31.2 -20.0"/><path d="M272.1 761.0 l-31.2 -20.0"/><path d="M274.6 761.0 l-31.2 -20.0"/><path d="M277.2 761.0 l-31.2 -20.0"/><path d="M279.2 761.0 l-31.2 -20.0"/><path d="M281.0 761.0 l-31.2 -20.0"/><path d="M283.4 761.0 l-31.2 -20.0"/><path d="M285.9 761.0 l-31.2 -20.0"/><path d="M287.5 761.0 l-31.2 -20.0"/><path d="M289.5 761.0 l-31.2 -20.0"/><path d="M291.7 761.0 l-31.2 -20.0"/><path d="M294.2 761.0 l-31.2 -20.0"/><path d="M296.4 761.0 l-31.2 -20.0"/><path d="M298.5 761.0 l-31.2 -20.0"/><path d="M300.7 761.0 l-31.2 -20.0"/><path d="M302.6 761.0 l-31.2 -20.0"/><path d="M304.9 761.0 l-31.2 -20.0"/><path d="M307.5 761.0 l-31.2 -20.0"/><path d="M309.9 761.0 l-31.2 -20.0"/><path d="M312.1 761.0 l-31.2 -20.0"/><path d="M314.2 761.0 l-31.2 -20.0"/><path d="M315.9 761.0 l-31.2 -20.0"/><path d="M317.5 761.0 l-31.2 -20.0"/><path d="M319.6 761.0 l-31.2 -20.0"/><path d="M321.6 761.0 l-31.2 -20.0"/><path d="M323.9 761.0 l-31.2 -20.0"/><path d="M325.7 761.0 l-31.2 -20.0"/><path d="M327.6 761.0 l-31.2 -20.0"/></g>
<path d="M92.5 679 L130 659.5 L170.5 677" fill="#fbfbfc" stroke="#1f1b34" stroke-width="4.5" stroke-linejoin="round"/>
<path d="M112 676 Q130 664 148 676 Z" fill="#38277c"/><circle cx="130" cy="673" r="4" fill="#fbfbfc"/><circle cx="130" cy="673" r="2" fill="#1f1b34"/>
<rect x="93.5" y="679.5" width="76" height="48" rx="2" fill="#fbfbfc" stroke="#1f1b34" stroke-width="5"/>
<text x="104" y="711.5" font-family="Liberation Sans" font-weight="bold" font-size="25.5" fill="#1f1b34" textLength="35.5" lengthAdjust="spacingAndGlyphs">2FA</text>
<circle cx="100" cy="688.5" r="1.6" fill="#1f1b34"/><path d="M145 689 L155 688" stroke="#1f1b34" stroke-width="2"/>
<path d="M103 722 L130 722" stroke="#1f1b34" stroke-width="1.5"/>
<path d="M174.5 677 L240 677 L240 727 L174.5 727 Z" fill="#1f1b34"/>
<rect x="177" y="684.5" width="57" height="38" fill="#38277c"/>
<g fill="#fff"><ellipse cx="204" cy="696.5" rx="6" ry="3"/><ellipse cx="191" cy="705" rx="6" ry="2.6"/><path d="M205 705 L221 704" stroke="#fff" stroke-width="3" stroke-linecap="round"/><ellipse cx="203" cy="711" rx="2.5" ry="2"/></g>
<path d="M192 727 L266 728 L275 742 L272 755 L218 756 L192 740 Z" fill="#1f1b34"/>
<path d="M198 729 L262 730 L270 740 L214 741 Z" fill="#fbfbfc"/>
<path d="M205 731 L258 732 L262 738 L212 738 Z" fill="#1f1b34"/>
<g fill="#c9c7da"><ellipse cx="214" cy="733.5" rx="2.2" ry="0.9"/><ellipse cx="214" cy="736.5" rx="2.2" ry="0.9"/><ellipse cx="222" cy="733.5" rx="2.2" ry="0.9"/><ellipse cx="222" cy="736.5" rx="2.2" ry="0.9"/><ellipse cx="230" cy="733.5" rx="2.2" ry="0.9"/><ellipse cx="230" cy="736.5" rx="2.2" ry="0.9"/><ellipse cx="238" cy="733.5" rx="2.2" ry="0.9"/><ellipse cx="238" cy="736.5" rx="2.2" ry="0.9"/><ellipse cx="246" cy="733.5" rx="2.2" ry="0.9"/><ellipse cx="246" cy="736.5" rx="2.2" ry="0.9"/><ellipse cx="254" cy="733.5" rx="2.2" ry="0.9"/><ellipse cx="254" cy="736.5" rx="2.2" ry="0.9"/></g>
<path d="M220 746 L220 752" stroke="#fbfbfc" stroke-width="1"/>
<path d="M149.5 718 L149.5 704 Q149.5 692.7 160.7 692.7 Q172 692.7 172 704 L172 718" fill="none" stroke="#1f1b34" stroke-width="6"/>
<rect x="140.8" y="720" width="49.2" height="31.7" rx="6" fill="#fbfbfc" stroke="#1f1b34" stroke-width="7" />
<g stroke="#9a96b2" stroke-width="1.3" opacity="0.7"><path d="M175.0 748.0 l-8.7 -24.0"/><path d="M177.5 748.0 l-8.7 -24.0"/><path d="M180.0 748.0 l-8.7 -24.0"/><path d="M182.5 748.0 l-8.7 -24.0"/></g>
<circle cx="165.4" cy="730" r="5" fill="#1f1b34"/><path d="M165.4 731 L165.4 744" stroke="#1f1b34" stroke-width="5.5" stroke-linecap="round"/>
<rect x="250.2" y="667.7" width="54.2" height="45.8" rx="2" fill="#1f1b34"/>
<rect x="254" y="671.5" width="46.5" height="38.5" fill="#38277c"/>
<g stroke="#fff" stroke-width="3.2" stroke-linecap="round"><path d="M264 678 L263 701"/><path d="M273 678 L272 701"/><path d="M260 685 L278 685"/><path d="M260 694 L278 694"/><path d="M283 688 L295 688"/><path d="M283 697 L295 697"/></g>
<path d="M273 713 L287 713 L287 729 L308.5 729 L308.5 736.5 L256.5 736.5 L256.5 729 L273 729 Z" fill="#1f1b34"/>
<path d="M281 715 L281 728" stroke="#38277c" stroke-width="3"/>
<g stroke="#1f1b34" stroke-width="2.2" stroke-linecap="round"><path d="M291 740.6 L326 740"/><path d="M300 745 L316 745"/><path d="M150 760 L200 761"/><path d="M170 764 L215 764"/></g>
<defs><clipPath id="pc38"><path d="M525.0 770.0 L552.0 762.0 L560.0 776.0 L535.0 786.0Z"/></clipPath></defs><path d="M525.0 770.0 L552.0 762.0 L560.0 776.0 L535.0 786.0Z" fill="#dcdae7" opacity="0.9"/><g clip-path="url(#pc38)" stroke="#8a86a6" stroke-width="1" opacity="0.75"><path d="M481.4 787.0 l-41.6 -26.0"/><path d="M483.5 787.0 l-41.6 -26.0"/><path d="M485.8 787.0 l-41.6 -26.0"/><path d="M487.5 787.0 l-41.6 -26.0"/><path d="M489.5 787.0 l-41.6 -26.0"/><path d="M491.5 787.0 l-41.6 -26.0"/><path d="M493.2 787.0 l-41.6 -26.0"/><path d="M495.4 787.0 l-41.6 -26.0"/><path d="M497.6 787.0 l-41.6 -26.0"/><path d="M499.6 787.0 l-41.6 -26.0"/><path d="M501.9 787.0 l-41.6 -26.0"/><path d="M504.1 787.0 l-41.6 -26.0"/><path d="M506.0 787.0 l-41.6 -26.0"/><path d="M508.6 787.0 l-41.6 -26.0"/><path d="M511.0 787.0 l-41.6 -26.0"/><path d="M513.0 787.0 l-41.6 -26.0"/><path d="M515.5 787.0 l-41.6 -26.0"/><path d="M517.2 787.0 l-41.6 -26.0"/><path d="M519.3 787.0 l-41.6 -26.0"/><path d="M521.3 787.0 l-41.6 -26.0"/><path d="M523.1 787.0 l-41.6 -26.0"/><path d="M525.1 787.0 l-41.6 -26.0"/><path d="M527.5 787.0 l-41.6 -26.0"/><path d="M530.0 787.0 l-41.6 -26.0"/><path d="M532.4 787.0 l-41.6 -26.0"/><path d="M535.0 787.0 l-41.6 -26.0"/><path d="M537.1 787.0 l-41.6 -26.0"/><path d="M538.9 787.0 l-41.6 -26.0"/><path d="M540.6 787.0 l-41.6 -26.0"/><path d="M542.3 787.0 l-41.6 -26.0"/><path d="M544.0 787.0 l-41.6 -26.0"/><path d="M546.1 787.0 l-41.6 -26.0"/><path d="M547.8 787.0 l-41.6 -26.0"/><path d="M549.8 787.0 l-41.6 -26.0"/><path d="M552.1 787.0 l-41.6 -26.0"/><path d="M554.0 787.0 l-41.6 -26.0"/><path d="M556.5 787.0 l-41.6 -26.0"/><path d="M558.6 787.0 l-41.6 -26.0"/><path d="M560.9 787.0 l-41.6 -26.0"/><path d="M562.6 787.0 l-41.6 -26.0"/><path d="M564.5 787.0 l-41.6 -26.0"/><path d="M566.8 787.0 l-41.6 -26.0"/><path d="M569.1 787.0 l-41.6 -26.0"/><path d="M570.8 787.0 l-41.6 -26.0"/><path d="M572.9 787.0 l-41.6 -26.0"/><path d="M575.1 787.0 l-41.6 -26.0"/><path d="M577.0 787.0 l-41.6 -26.0"/><path d="M579.5 787.0 l-41.6 -26.0"/><path d="M581.3 787.0 l-41.6 -26.0"/><path d="M583.7 787.0 l-41.6 -26.0"/><path d="M586.2 787.0 l-41.6 -26.0"/><path d="M588.1 787.0 l-41.6 -26.0"/><path d="M590.0 787.0 l-41.6 -26.0"/><path d="M591.7 787.0 l-41.6 -26.0"/><path d="M594.2 787.0 l-41.6 -26.0"/><path d="M596.8 787.0 l-41.6 -26.0"/><path d="M599.2 787.0 l-41.6 -26.0"/><path d="M601.6 787.0 l-41.6 -26.0"/></g>
<g stroke="#8f8aa8" stroke-width="1.3" opacity="0.5"><path d="M526.0 785.0 l-18.5 -22.0"/><path d="M528.7 785.0 l-18.5 -22.0"/><path d="M531.3 785.0 l-18.5 -22.0"/><path d="M534.0 785.0 l-18.5 -22.0"/><path d="M536.7 785.0 l-18.5 -22.0"/><path d="M539.3 785.0 l-18.5 -22.0"/><path d="M542.0 785.0 l-18.5 -22.0"/><path d="M544.7 785.0 l-18.5 -22.0"/><path d="M547.3 785.0 l-18.5 -22.0"/><path d="M550.0 785.0 l-18.5 -22.0"/><path d="M552.7 785.0 l-18.5 -22.0"/><path d="M555.3 785.0 l-18.5 -22.0"/></g>
<defs><clipPath id="pc39"><path d="M697.0 779.0 L710.0 779.0 L712.0 790.0 L698.0 790.0Z"/></clipPath></defs><path d="M697.0 779.0 L710.0 779.0 L712.0 790.0 L698.0 790.0Z" fill="#dcdae7" opacity="0.9"/><g clip-path="url(#pc39)" stroke="#8a86a6" stroke-width="1" opacity="0.75"><path d="M691.0 791.0 l-4.0 -13.0"/><path d="M692.9 791.0 l-4.0 -13.0"/><path d="M694.5 791.0 l-4.0 -13.0"/><path d="M696.3 791.0 l-4.0 -13.0"/><path d="M698.6 791.0 l-4.0 -13.0"/><path d="M700.2 791.0 l-4.0 -13.0"/><path d="M702.6 791.0 l-4.0 -13.0"/><path d="M704.9 791.0 l-4.0 -13.0"/><path d="M707.2 791.0 l-4.0 -13.0"/><path d="M709.8 791.0 l-4.0 -13.0"/><path d="M711.4 791.0 l-4.0 -13.0"/><path d="M713.7 791.0 l-4.0 -13.0"/><path d="M716.1 791.0 l-4.0 -13.0"/></g>
<defs><clipPath id="pc40"><path d="M700.0 791.0 L719.0 790.0 L720.0 808.0 L702.0 808.0Z"/></clipPath></defs><path d="M700.0 791.0 L719.0 790.0 L720.0 808.0 L702.0 808.0Z" fill="#dcdae7" opacity="0.9"/><g clip-path="url(#pc40)" stroke="#8a86a6" stroke-width="1" opacity="0.75"><path d="M685.4 809.0 l12.6 -20.0"/><path d="M687.6 809.0 l12.6 -20.0"/><path d="M689.7 809.0 l12.6 -20.0"/><path d="M691.5 809.0 l12.6 -20.0"/><path d="M693.8 809.0 l12.6 -20.0"/><path d="M696.0 809.0 l12.6 -20.0"/><path d="M697.9 809.0 l12.6 -20.0"/><path d="M700.2 809.0 l12.6 -20.0"/><path d="M702.1 809.0 l12.6 -20.0"/><path d="M704.4 809.0 l12.6 -20.0"/><path d="M706.9 809.0 l12.6 -20.0"/><path d="M709.0 809.0 l12.6 -20.0"/><path d="M711.3 809.0 l12.6 -20.0"/><path d="M713.0 809.0 l12.6 -20.0"/><path d="M714.8 809.0 l12.6 -20.0"/><path d="M717.1 809.0 l12.6 -20.0"/><path d="M719.5 809.0 l12.6 -20.0"/><path d="M721.2 809.0 l12.6 -20.0"/><path d="M723.6 809.0 l12.6 -20.0"/><path d="M725.5 809.0 l12.6 -20.0"/><path d="M727.3 809.0 l12.6 -20.0"/><path d="M729.3 809.0 l12.6 -20.0"/><path d="M731.7 809.0 l12.6 -20.0"/><path d="M733.9 809.0 l12.6 -20.0"/></g>
<defs><clipPath id="pc41"><path d="M705.0 813.0 L726.0 811.0 L727.0 830.0 L707.0 830.0Z"/></clipPath></defs><path d="M705.0 813.0 L726.0 811.0 L727.0 830.0 L707.0 830.0Z" fill="#dcdae7" opacity="0.9"/><g clip-path="url(#pc41)" stroke="#8a86a6" stroke-width="1" opacity="0.75"><path d="M689.7 831.0 l13.3 -21.0"/><path d="M691.6 831.0 l13.3 -21.0"/><path d="M694.2 831.0 l13.3 -21.0"/><path d="M696.7 831.0 l13.3 -21.0"/><path d="M698.7 831.0 l13.3 -21.0"/><path d="M701.2 831.0 l13.3 -21.0"/><path d="M703.1 831.0 l13.3 -21.0"/><path d="M705.0 831.0 l13.3 -21.0"/><path d="M707.4 831.0 l13.3 -21.0"/><path d="M709.8 831.0 l13.3 -21.0"/><path d="M711.4 831.0 l13.3 -21.0"/><path d="M713.2 831.0 l13.3 -21.0"/><path d="M715.8 831.0 l13.3 -21.0"/><path d="M717.5 831.0 l13.3 -21.0"/><path d="M720.0 831.0 l13.3 -21.0"/><path d="M722.6 831.0 l13.3 -21.0"/><path d="M725.2 831.0 l13.3 -21.0"/><path d="M727.1 831.0 l13.3 -21.0"/><path d="M728.9 831.0 l13.3 -21.0"/><path d="M731.2 831.0 l13.3 -21.0"/><path d="M733.4 831.0 l13.3 -21.0"/><path d="M735.1 831.0 l13.3 -21.0"/><path d="M737.3 831.0 l13.3 -21.0"/><path d="M739.4 831.0 l13.3 -21.0"/><path d="M741.2 831.0 l13.3 -21.0"/></g>
<defs><clipPath id="pc42"><path d="M380.0 822.0 L406.0 820.0 L408.0 846.0 L385.0 848.0Z"/></clipPath></defs><path d="M380.0 822.0 L406.0 820.0 L408.0 846.0 L385.0 848.0Z" fill="#dcdae7" opacity="0.9"/><g clip-path="url(#pc42)" stroke="#8a86a6" stroke-width="1" opacity="0.75"><path d="M329.5 849.0 l-48.5 -30.0"/><path d="M331.2 849.0 l-48.5 -30.0"/><path d="M333.6 849.0 l-48.5 -30.0"/><path d="M335.4 849.0 l-48.5 -30.0"/><path d="M337.1 849.0 l-48.5 -30.0"/><path d="M338.8 849.0 l-48.5 -30.0"/><path d="M341.2 849.0 l-48.5 -30.0"/><path d="M343.3 849.0 l-48.5 -30.0"/><path d="M345.5 849.0 l-48.5 -30.0"/><path d="M347.2 849.0 l-48.5 -30.0"/><path d="M348.8 849.0 l-48.5 -30.0"/><path d="M350.7 849.0 l-48.5 -30.0"/><path d="M352.9 849.0 l-48.5 -30.0"/><path d="M355.0 849.0 l-48.5 -30.0"/><path d="M357.4 849.0 l-48.5 -30.0"/><path d="M359.7 849.0 l-48.5 -30.0"/><path d="M361.7 849.0 l-48.5 -30.0"/><path d="M363.7 849.0 l-48.5 -30.0"/><path d="M365.6 849.0 l-48.5 -30.0"/><path d="M368.1 849.0 l-48.5 -30.0"/><path d="M370.4 849.0 l-48.5 -30.0"/><path d="M372.2 849.0 l-48.5 -30.0"/><path d="M374.2 849.0 l-48.5 -30.0"/><path d="M376.1 849.0 l-48.5 -30.0"/><path d="M377.9 849.0 l-48.5 -30.0"/><path d="M380.3 849.0 l-48.5 -30.0"/><path d="M382.0 849.0 l-48.5 -30.0"/><path d="M384.0 849.0 l-48.5 -30.0"/><path d="M385.9 849.0 l-48.5 -30.0"/><path d="M387.9 849.0 l-48.5 -30.0"/><path d="M389.7 849.0 l-48.5 -30.0"/><path d="M391.4 849.0 l-48.5 -30.0"/><path d="M393.4 849.0 l-48.5 -30.0"/><path d="M395.1 849.0 l-48.5 -30.0"/><path d="M397.7 849.0 l-48.5 -30.0"/><path d="M399.4 849.0 l-48.5 -30.0"/><path d="M401.2 849.0 l-48.5 -30.0"/><path d="M403.5 849.0 l-48.5 -30.0"/><path d="M406.0 849.0 l-48.5 -30.0"/><path d="M407.9 849.0 l-48.5 -30.0"/><path d="M409.7 849.0 l-48.5 -30.0"/><path d="M411.4 849.0 l-48.5 -30.0"/><path d="M413.6 849.0 l-48.5 -30.0"/><path d="M416.0 849.0 l-48.5 -30.0"/><path d="M418.6 849.0 l-48.5 -30.0"/><path d="M421.1 849.0 l-48.5 -30.0"/><path d="M423.5 849.0 l-48.5 -30.0"/><path d="M425.5 849.0 l-48.5 -30.0"/><path d="M427.6 849.0 l-48.5 -30.0"/><path d="M430.0 849.0 l-48.5 -30.0"/><path d="M431.8 849.0 l-48.5 -30.0"/><path d="M433.7 849.0 l-48.5 -30.0"/><path d="M436.0 849.0 l-48.5 -30.0"/><path d="M438.3 849.0 l-48.5 -30.0"/><path d="M440.6 849.0 l-48.5 -30.0"/><path d="M442.2 849.0 l-48.5 -30.0"/><path d="M444.5 849.0 l-48.5 -30.0"/><path d="M446.6 849.0 l-48.5 -30.0"/><path d="M448.4 849.0 l-48.5 -30.0"/><path d="M450.5 849.0 l-48.5 -30.0"/><path d="M452.4 849.0 l-48.5 -30.0"/><path d="M454.9 849.0 l-48.5 -30.0"/><path d="M457.2 849.0 l-48.5 -30.0"/></g>
<g stroke="#8f8aa8" stroke-width="1.3" opacity="0.55"><path d="M382.0 846.0 l-2.3 -26.0"/><path d="M384.7 846.0 l-2.3 -26.0"/><path d="M387.3 846.0 l-2.3 -26.0"/><path d="M390.0 846.0 l-2.3 -26.0"/><path d="M392.7 846.0 l-2.3 -26.0"/><path d="M395.3 846.0 l-2.3 -26.0"/><path d="M398.0 846.0 l-2.3 -26.0"/><path d="M400.7 846.0 l-2.3 -26.0"/><path d="M403.3 846.0 l-2.3 -26.0"/></g>
<defs><clipPath id="pc43"><path d="M440.0 850.0 L470.0 848.0 L472.0 860.0 L442.0 860.0Z"/></clipPath></defs><path d="M440.0 850.0 L470.0 848.0 L472.0 860.0 L442.0 860.0Z" fill="#dcdae7" opacity="0.9"/><g clip-path="url(#pc43)" stroke="#8a86a6" stroke-width="1" opacity="0.75"><path d="M429.6 861.0 l-8.4 -14.0"/><path d="M431.5 861.0 l-8.4 -14.0"/><path d="M433.8 861.0 l-8.4 -14.0"/><path d="M436.4 861.0 l-8.4 -14.0"/><path d="M438.4 861.0 l-8.4 -14.0"/><path d="M440.7 861.0 l-8.4 -14.0"/><path d="M442.4 861.0 l-8.4 -14.0"/><path d="M444.6 861.0 l-8.4 -14.0"/><path d="M446.8 861.0 l-8.4 -14.0"/><path d="M448.9 861.0 l-8.4 -14.0"/><path d="M451.1 861.0 l-8.4 -14.0"/><path d="M453.3 861.0 l-8.4 -14.0"/><path d="M455.8 861.0 l-8.4 -14.0"/><path d="M458.3 861.0 l-8.4 -14.0"/><path d="M460.9 861.0 l-8.4 -14.0"/><path d="M462.9 861.0 l-8.4 -14.0"/><path d="M464.5 861.0 l-8.4 -14.0"/><path d="M466.2 861.0 l-8.4 -14.0"/><path d="M468.0 861.0 l-8.4 -14.0"/><path d="M469.7 861.0 l-8.4 -14.0"/><path d="M471.5 861.0 l-8.4 -14.0"/><path d="M473.9 861.0 l-8.4 -14.0"/><path d="M475.6 861.0 l-8.4 -14.0"/><path d="M477.6 861.0 l-8.4 -14.0"/><path d="M480.2 861.0 l-8.4 -14.0"/><path d="M482.1 861.0 l-8.4 -14.0"/></g>
<g stroke="#8f8aa8" stroke-width="3" fill="none" stroke-linecap="round"><path d="M672 682 Q680 696 674 712"/><path d="M684 695 Q690 705 682 722"/><path d="M698 718 Q697 727 690 733"/><path d="M666 696 Q668 700 666 705"/></g>
<path d="M520 823 L520 811 Q524 802 531 799 Q540 794 549 792 Q556 788 562 782 Q569 777 572 771 Q576 765 576 758 Q574 748 573.4 737.7 Q573 728 575 721 Q579 712 585 706.5 Q591 699 598 694.7 Q606 689 616.4 687 Q624 685 632 685.6 Q641 687 647.6 691 Q654 696 658 704 Q662 712 664.5 722 Q666.5 731 668.4 737.7 Q675 739 681.5 741.6 Q688 745 690.6 750.7 Q693 757 693 764 Q694 776 694.5 787 Q697 801 698.4 816 Q700 832 700 849.7 L598 849.7 L520 837 Z" fill="#1f1b34"/>
<path d="M612 694 Q626 689 640 690 Q650 697 654 711 Q657 726 660 740 Q652 748 640 757 Q639 740 631 727 Q618 714 603 712 Z" fill="#38277c" opacity="0.9"/>
<g stroke="#1f1b34" stroke-width="1.6" opacity="0.7"><path d="M628 700 L648 735"/><path d="M636 698 L656 730"/><path d="M622 704 L640 730"/></g>
<path d="M546 792 Q556 784 566 778 Q580 772 592 772 L600 790 L604 812 L580 812 Q562 806 546 805 Z" fill="#38277c" opacity="0.75"/>
<path d="M630 772 Q650 764 670 762 Q686 770 688 790 L690 826 L660 826 Q655 808 640 800 Q632 786 630 772 Z" fill="#38277c" opacity="0.75"/>
<path d="M578 720.5 Q590 704 607 697 Q616 692.5 624 691" fill="none" stroke="#fff" stroke-width="2.6" stroke-linecap="round"/>
<path d="M599 712 Q616 714 628 727 Q637 740 638.4 755 Q638 762 636.5 766" fill="none" stroke="#fff" stroke-width="2.6" stroke-linecap="round"/>
<path d="M589 756 Q592 763 597 767" fill="none" stroke="#fff" stroke-width="2.2" stroke-linecap="round"/>
<path d="M586 734 Q604 740 624 734 Q622 744 614 745.5 Q606 742 598 745.5 Q589 744 586 734 Z" fill="#fff"/>
<path d="M604 748 L607.5 752 L611 748 Z" fill="#fff"/>
<g stroke="#fff" stroke-width="2.2" fill="none" stroke-linecap="round"><path d="M595.5 777 L597 803"/><path d="M619 777 L620 800"/></g>
<path d="M641 761 L652 756 L654 760 L664 752 L666 757 L676 749 L680 752 L688 748" stroke="#fff" stroke-width="2" fill="none" stroke-linejoin="round"/>
<path d="M598 816 L605 821 L610 815 L616 821 L622 815 L628 821 L634 815 L640 820 L650 818" stroke="#fff" stroke-width="2" fill="none" stroke-linejoin="round"/>
<path d="M650 818 Q664 800 676 784.6" stroke="#fff" stroke-width="2.4" fill="none" stroke-linecap="round"/>
<path d="M678 800 Q674 826 662 845" stroke="#fff" stroke-width="2" fill="none" stroke-linecap="round"/>
<path d="M525 816 Q534 805 546 803 Q560 802 572 806" stroke="#fff" stroke-width="2" fill="none" stroke-linecap="round"/>
<path d="M536 826 Q550 820 566 822 L590 824" stroke="#fff" stroke-width="1.8" fill="none" stroke-linecap="round"/>
<path d="M567 812 Q580 815 596 812" stroke="#fff" stroke-width="1.6" fill="none" stroke-linecap="round"/>
<path d="M424.7 758.2 L505.5 764.7 L516 840 L439 827 Z" fill="#1f1b34" stroke="#1f1b34" stroke-width="4" stroke-linejoin="round"/>
<path d="M430 764 L500 769.5 L510.5 834" fill="none" stroke="#fff" stroke-width="1.8"/>
<path d="M433 772 L498 776 L474 810 L442 806 Z" fill="#38277c" opacity="0.6"/>
<circle cx="466.4" cy="801.2" r="9" fill="#fff"/>
<g stroke="#fff" stroke-width="1.3"><path d="M490 818 L496 830"/><path d="M495 815 L501 828"/><path d="M500 812 L505 826"/></g>
<path d="M446 829 L520 832 L590 838 L590 849 L448 849 Z" fill="#1f1b34"/>
<path d="M450 834 L520 836 L585 840" stroke="#fff" stroke-width="1.8" fill="none"/>
<g stroke="#1f1b34" stroke-width="2" stroke-linecap="round"><path d="M430 852 L470 853"/><path d="M530 851 L600 852"/><path d="M620 850 L690 851"/><path d="M640 856 L700 856"/></g>
<defs><clipPath id="pc44"><path d="M195.0 877.0 L215.0 875.0 L216.0 884.0 L196.0 886.0Z"/></clipPath></defs><path d="M195.0 877.0 L215.0 875.0 L216.0 884.0 L196.0 886.0Z" fill="#dcdae7" opacity="0.9"/><g clip-path="url(#pc44)" stroke="#8a86a6" stroke-width="1" opacity="0.75"><path d="M185.3 887.0 l7.7 -13.0"/><path d="M187.4 887.0 l7.7 -13.0"/><path d="M189.7 887.0 l7.7 -13.0"/><path d="M191.4 887.0 l7.7 -13.0"/><path d="M193.4 887.0 l7.7 -13.0"/><path d="M195.3 887.0 l7.7 -13.0"/><path d="M197.1 887.0 l7.7 -13.0"/><path d="M199.3 887.0 l7.7 -13.0"/><path d="M201.0 887.0 l7.7 -13.0"/><path d="M203.4 887.0 l7.7 -13.0"/><path d="M205.7 887.0 l7.7 -13.0"/><path d="M207.6 887.0 l7.7 -13.0"/><path d="M209.8 887.0 l7.7 -13.0"/><path d="M212.0 887.0 l7.7 -13.0"/><path d="M214.4 887.0 l7.7 -13.0"/><path d="M216.6 887.0 l7.7 -13.0"/><path d="M218.6 887.0 l7.7 -13.0"/><path d="M220.5 887.0 l7.7 -13.0"/><path d="M222.4 887.0 l7.7 -13.0"/><path d="M224.2 887.0 l7.7 -13.0"/></g>
<defs><clipPath id="pc45"><path d="M218.0 873.0 L240.0 870.0 L242.0 880.0 L220.0 883.0Z"/></clipPath></defs><path d="M218.0 873.0 L240.0 870.0 L242.0 880.0 L220.0 883.0Z" fill="#dcdae7" opacity="0.9"/><g clip-path="url(#pc45)" stroke="#8a86a6" stroke-width="1" opacity="0.75"><path d="M211.3 884.0 l4.7 -15.0"/><path d="M213.3 884.0 l4.7 -15.0"/><path d="M215.1 884.0 l4.7 -15.0"/><path d="M217.0 884.0 l4.7 -15.0"/><path d="M218.7 884.0 l4.7 -15.0"/><path d="M220.8 884.0 l4.7 -15.0"/><path d="M222.5 884.0 l4.7 -15.0"/><path d="M224.9 884.0 l4.7 -15.0"/><path d="M227.4 884.0 l4.7 -15.0"/><path d="M229.9 884.0 l4.7 -15.0"/><path d="M232.1 884.0 l4.7 -15.0"/><path d="M234.6 884.0 l4.7 -15.0"/><path d="M236.3 884.0 l4.7 -15.0"/><path d="M238.2 884.0 l4.7 -15.0"/><path d="M240.7 884.0 l4.7 -15.0"/><path d="M242.4 884.0 l4.7 -15.0"/><path d="M245.0 884.0 l4.7 -15.0"/><path d="M247.4 884.0 l4.7 -15.0"/></g>
<g stroke="#8f8aa8" stroke-width="1.3" opacity="0.6"><path d="M196.0 885.0 l-2.5 -14.0"/><path d="M198.6 885.0 l-2.5 -14.0"/><path d="M201.1 885.0 l-2.5 -14.0"/><path d="M203.7 885.0 l-2.5 -14.0"/><path d="M206.2 885.0 l-2.5 -14.0"/><path d="M208.8 885.0 l-2.5 -14.0"/><path d="M211.3 885.0 l-2.5 -14.0"/><path d="M213.9 885.0 l-2.5 -14.0"/><path d="M216.4 885.0 l-2.5 -14.0"/><path d="M219.0 885.0 l-2.5 -14.0"/><path d="M221.6 885.0 l-2.5 -14.0"/><path d="M224.1 885.0 l-2.5 -14.0"/><path d="M226.7 885.0 l-2.5 -14.0"/><path d="M229.2 885.0 l-2.5 -14.0"/><path d="M231.8 885.0 l-2.5 -14.0"/><path d="M234.3 885.0 l-2.5 -14.0"/><path d="M236.9 885.0 l-2.5 -14.0"/><path d="M239.4 885.0 l-2.5 -14.0"/></g>
<defs><clipPath id="pc46"><path d="M157.0 956.0 L184.5 955.0 L184.5 965.8 L157.0 966.0Z"/></clipPath></defs><path d="M157.0 956.0 L184.5 955.0 L184.5 965.8 L157.0 966.0Z" fill="#dcdae7" opacity="0.9"/><g clip-path="url(#pc46)" stroke="#8a86a6" stroke-width="1" opacity="0.75"><path d="M147.3 967.0 l-7.7 -13.0"/><path d="M149.3 967.0 l-7.7 -13.0"/><path d="M151.5 967.0 l-7.7 -13.0"/><path d="M153.9 967.0 l-7.7 -13.0"/><path d="M155.8 967.0 l-7.7 -13.0"/><path d="M157.9 967.0 l-7.7 -13.0"/><path d="M160.1 967.0 l-7.7 -13.0"/><path d="M162.6 967.0 l-7.7 -13.0"/><path d="M164.3 967.0 l-7.7 -13.0"/><path d="M165.9 967.0 l-7.7 -13.0"/><path d="M167.8 967.0 l-7.7 -13.0"/><path d="M170.3 967.0 l-7.7 -13.0"/><path d="M172.7 967.0 l-7.7 -13.0"/><path d="M174.4 967.0 l-7.7 -13.0"/><path d="M177.0 967.0 l-7.7 -13.0"/><path d="M179.1 967.0 l-7.7 -13.0"/><path d="M181.7 967.0 l-7.7 -13.0"/><path d="M184.2 967.0 l-7.7 -13.0"/><path d="M185.9 967.0 l-7.7 -13.0"/><path d="M188.5 967.0 l-7.7 -13.0"/><path d="M190.5 967.0 l-7.7 -13.0"/><path d="M192.3 967.0 l-7.7 -13.0"/></g>
<defs><clipPath id="pc47"><path d="M190.0 954.0 L213.0 953.8 L213.0 963.5 L190.0 964.0Z"/></clipPath></defs><path d="M190.0 954.0 L213.0 953.8 L213.0 963.5 L190.0 964.0Z" fill="#dcdae7" opacity="0.9"/><g clip-path="url(#pc47)" stroke="#8a86a6" stroke-width="1" opacity="0.75"><path d="M184.3 965.0 l3.7 -12.2"/><path d="M186.0 965.0 l3.7 -12.2"/><path d="M188.1 965.0 l3.7 -12.2"/><path d="M190.3 965.0 l3.7 -12.2"/><path d="M192.1 965.0 l3.7 -12.2"/><path d="M194.1 965.0 l3.7 -12.2"/><path d="M196.3 965.0 l3.7 -12.2"/><path d="M198.7 965.0 l3.7 -12.2"/><path d="M201.0 965.0 l3.7 -12.2"/><path d="M203.5 965.0 l3.7 -12.2"/><path d="M205.1 965.0 l3.7 -12.2"/><path d="M207.7 965.0 l3.7 -12.2"/><path d="M210.1 965.0 l3.7 -12.2"/><path d="M212.4 965.0 l3.7 -12.2"/><path d="M214.0 965.0 l3.7 -12.2"/><path d="M216.4 965.0 l3.7 -12.2"/><path d="M218.3 965.0 l3.7 -12.2"/></g>
<defs><clipPath id="pc48"><path d="M111.5 928.6 L123.0 928.6 L123.0 935.8 L111.5 935.8Z"/></clipPath></defs><path d="M111.5 928.6 L123.0 928.6 L123.0 935.8 L111.5 935.8Z" fill="#dcdae7" opacity="0.9"/><g clip-path="url(#pc48)" stroke="#8a86a6" stroke-width="1" opacity="0.75"><path d="M97.0 936.8 l12.5 -9.2"/><path d="M98.9 936.8 l12.5 -9.2"/><path d="M101.1 936.8 l12.5 -9.2"/><path d="M103.2 936.8 l12.5 -9.2"/><path d="M105.6 936.8 l12.5 -9.2"/><path d="M107.7 936.8 l12.5 -9.2"/><path d="M110.0 936.8 l12.5 -9.2"/><path d="M112.1 936.8 l12.5 -9.2"/><path d="M113.8 936.8 l12.5 -9.2"/><path d="M116.2 936.8 l12.5 -9.2"/><path d="M118.5 936.8 l12.5 -9.2"/><path d="M120.6 936.8 l12.5 -9.2"/><path d="M122.4 936.8 l12.5 -9.2"/><path d="M124.8 936.8 l12.5 -9.2"/><path d="M126.9 936.8 l12.5 -9.2"/><path d="M129.0 936.8 l12.5 -9.2"/><path d="M131.1 936.8 l12.5 -9.2"/><path d="M132.7 936.8 l12.5 -9.2"/><path d="M134.8 936.8 l12.5 -9.2"/><path d="M136.5 936.8 l12.5 -9.2"/></g>
<defs><clipPath id="pc49"><path d="M252.0 958.0 L260.0 954.0 L264.0 963.0 L255.0 967.0Z"/></clipPath></defs><path d="M252.0 958.0 L260.0 954.0 L264.0 963.0 L255.0 967.0Z" fill="#dcdae7" opacity="0.9"/><g clip-path="url(#pc49)" stroke="#8a86a6" stroke-width="1" opacity="0.75"><path d="M240.9 968.0 l-9.1 -15.0"/><path d="M242.8 968.0 l-9.1 -15.0"/><path d="M245.4 968.0 l-9.1 -15.0"/><path d="M247.3 968.0 l-9.1 -15.0"/><path d="M249.5 968.0 l-9.1 -15.0"/><path d="M251.9 968.0 l-9.1 -15.0"/><path d="M254.1 968.0 l-9.1 -15.0"/><path d="M256.5 968.0 l-9.1 -15.0"/><path d="M258.4 968.0 l-9.1 -15.0"/><path d="M260.4 968.0 l-9.1 -15.0"/><path d="M262.1 968.0 l-9.1 -15.0"/><path d="M264.2 968.0 l-9.1 -15.0"/><path d="M266.0 968.0 l-9.1 -15.0"/><path d="M268.5 968.0 l-9.1 -15.0"/><path d="M270.4 968.0 l-9.1 -15.0"/><path d="M272.4 968.0 l-9.1 -15.0"/><path d="M274.0 968.0 l-9.1 -15.0"/></g>
<defs><clipPath id="pc50"><path d="M276.0 1000.0 L300.0 984.0 L320.0 990.0 L316.0 1010.0 L290.0 1010.0Z"/></clipPath></defs><path d="M276.0 1000.0 L300.0 984.0 L320.0 990.0 L316.0 1010.0 L290.0 1010.0Z" fill="#dcdae7" opacity="0.9"/><g clip-path="url(#pc50)" stroke="#8a86a6" stroke-width="1" opacity="0.75"><path d="M255.8 1011.0 l18.2 -28.0"/><path d="M258.3 1011.0 l18.2 -28.0"/><path d="M260.2 1011.0 l18.2 -28.0"/><path d="M262.7 1011.0 l18.2 -28.0"/><path d="M265.0 1011.0 l18.2 -28.0"/><path d="M267.4 1011.0 l18.2 -28.0"/><path d="M269.3 1011.0 l18.2 -28.0"/><path d="M271.4 1011.0 l18.2 -28.0"/><path d="M273.3 1011.0 l18.2 -28.0"/><path d="M275.4 1011.0 l18.2 -28.0"/><path d="M277.9 1011.0 l18.2 -28.0"/><path d="M279.9 1011.0 l18.2 -28.0"/><path d="M281.6 1011.0 l18.2 -28.0"/><path d="M283.5 1011.0 l18.2 -28.0"/><path d="M285.4 1011.0 l18.2 -28.0"/><path d="M287.0 1011.0 l18.2 -28.0"/><path d="M289.5 1011.0 l18.2 -28.0"/><path d="M292.1 1011.0 l18.2 -28.0"/><path d="M294.6 1011.0 l18.2 -28.0"/><path d="M296.6 1011.0 l18.2 -28.0"/><path d="M298.3 1011.0 l18.2 -28.0"/><path d="M300.8 1011.0 l18.2 -28.0"/><path d="M302.5 1011.0 l18.2 -28.0"/><path d="M304.7 1011.0 l18.2 -28.0"/><path d="M306.6 1011.0 l18.2 -28.0"/><path d="M308.9 1011.0 l18.2 -28.0"/><path d="M311.3 1011.0 l18.2 -28.0"/><path d="M313.0 1011.0 l18.2 -28.0"/><path d="M314.9 1011.0 l18.2 -28.0"/><path d="M317.3 1011.0 l18.2 -28.0"/><path d="M319.3 1011.0 l18.2 -28.0"/><path d="M321.9 1011.0 l18.2 -28.0"/><path d="M323.7 1011.0 l18.2 -28.0"/><path d="M325.7 1011.0 l18.2 -28.0"/><path d="M328.3 1011.0 l18.2 -28.0"/><path d="M330.4 1011.0 l18.2 -28.0"/><path d="M332.2 1011.0 l18.2 -28.0"/><path d="M334.4 1011.0 l18.2 -28.0"/><path d="M336.5 1011.0 l18.2 -28.0"/><path d="M338.2 1011.0 l18.2 -28.0"/></g>
<g stroke="#1f1b34" stroke-width="2.5" stroke-linecap="round" opacity="0.85"><path d="M116 948.6 L143 948.6"/><path d="M116 952.5 L140 952.5"/><path d="M177 948.6 L206 948"/><path d="M292 970 L303 961.5"/></g>
<path d="M199 921 L199 927" stroke="#38277c" stroke-width="3"/>
<defs><clipPath id="pc51"><path d="M325.0 990.0 L345.0 982.0 L350.0 996.0 L330.0 1000.0Z"/></clipPath></defs><path d="M325.0 990.0 L345.0 982.0 L350.0 996.0 L330.0 1000.0Z" fill="#dcdae7" opacity="0.9"/><g clip-path="url(#pc51)" stroke="#8a86a6" stroke-width="1" opacity="0.75"><path d="M316.4 1001.0 l-6.6 -20.0"/><path d="M318.9 1001.0 l-6.6 -20.0"/><path d="M321.0 1001.0 l-6.6 -20.0"/><path d="M322.9 1001.0 l-6.6 -20.0"/><path d="M325.5 1001.0 l-6.6 -20.0"/><path d="M327.9 1001.0 l-6.6 -20.0"/><path d="M329.8 1001.0 l-6.6 -20.0"/><path d="M332.2 1001.0 l-6.6 -20.0"/><path d="M334.4 1001.0 l-6.6 -20.0"/><path d="M336.4 1001.0 l-6.6 -20.0"/><path d="M338.7 1001.0 l-6.6 -20.0"/><path d="M340.9 1001.0 l-6.6 -20.0"/><path d="M342.8 1001.0 l-6.6 -20.0"/><path d="M345.1 1001.0 l-6.6 -20.0"/><path d="M347.1 1001.0 l-6.6 -20.0"/><path d="M348.9 1001.0 l-6.6 -20.0"/><path d="M351.2 1001.0 l-6.6 -20.0"/><path d="M352.8 1001.0 l-6.6 -20.0"/><path d="M354.6 1001.0 l-6.6 -20.0"/><path d="M356.7 1001.0 l-6.6 -20.0"/><path d="M358.3 1001.0 l-6.6 -20.0"/></g>
<defs><clipPath id="pc52"><path d="M300.0 1000.0 L312.0 1000.0 L310.0 1008.0 L298.0 1008.0Z"/></clipPath></defs><path d="M300.0 1000.0 L312.0 1000.0 L310.0 1008.0 L298.0 1008.0Z" fill="#dcdae7" opacity="0.9"/><g clip-path="url(#pc52)" stroke="#8a86a6" stroke-width="1" opacity="0.75"><path d="M293.1 1009.0 l2.9 -10.0"/><path d="M294.7 1009.0 l2.9 -10.0"/><path d="M297.1 1009.0 l2.9 -10.0"/><path d="M299.2 1009.0 l2.9 -10.0"/><path d="M301.7 1009.0 l2.9 -10.0"/><path d="M303.7 1009.0 l2.9 -10.0"/><path d="M306.2 1009.0 l2.9 -10.0"/><path d="M308.0 1009.0 l2.9 -10.0"/><path d="M310.6 1009.0 l2.9 -10.0"/><path d="M312.6 1009.0 l2.9 -10.0"/><path d="M314.4 1009.0 l2.9 -10.0"/><path d="M316.3 1009.0 l2.9 -10.0"/></g>
<defs><clipPath id="pc53"><path d="M488.0 933.0 L518.0 932.0 L518.0 942.0 L488.0 944.0Z"/></clipPath></defs><path d="M488.0 933.0 L518.0 932.0 L518.0 942.0 L488.0 944.0Z" fill="#dcdae7" opacity="0.9"/><g clip-path="url(#pc53)" stroke="#8a86a6" stroke-width="1" opacity="0.75"><path d="M465.2 945.0 l20.8 -14.0"/><path d="M467.7 945.0 l20.8 -14.0"/><path d="M469.5 945.0 l20.8 -14.0"/><path d="M471.6 945.0 l20.8 -14.0"/><path d="M473.7 945.0 l20.8 -14.0"/><path d="M476.0 945.0 l20.8 -14.0"/><path d="M477.9 945.0 l20.8 -14.0"/><path d="M480.0 945.0 l20.8 -14.0"/><path d="M481.6 945.0 l20.8 -14.0"/><path d="M484.2 945.0 l20.8 -14.0"/><path d="M486.7 945.0 l20.8 -14.0"/><path d="M489.3 945.0 l20.8 -14.0"/><path d="M491.2 945.0 l20.8 -14.0"/><path d="M492.9 945.0 l20.8 -14.0"/><path d="M495.4 945.0 l20.8 -14.0"/><path d="M497.1 945.0 l20.8 -14.0"/><path d="M498.7 945.0 l20.8 -14.0"/><path d="M500.5 945.0 l20.8 -14.0"/><path d="M502.3 945.0 l20.8 -14.0"/><path d="M504.1 945.0 l20.8 -14.0"/><path d="M506.0 945.0 l20.8 -14.0"/><path d="M508.4 945.0 l20.8 -14.0"/><path d="M510.8 945.0 l20.8 -14.0"/><path d="M512.9 945.0 l20.8 -14.0"/><path d="M514.9 945.0 l20.8 -14.0"/><path d="M517.5 945.0 l20.8 -14.0"/><path d="M519.4 945.0 l20.8 -14.0"/><path d="M521.2 945.0 l20.8 -14.0"/><path d="M523.6 945.0 l20.8 -14.0"/><path d="M525.7 945.0 l20.8 -14.0"/><path d="M527.7 945.0 l20.8 -14.0"/><path d="M530.3 945.0 l20.8 -14.0"/><path d="M532.5 945.0 l20.8 -14.0"/><path d="M534.3 945.0 l20.8 -14.0"/><path d="M536.0 945.0 l20.8 -14.0"/><path d="M538.2 945.0 l20.8 -14.0"/><path d="M540.3 945.0 l20.8 -14.0"/></g>
<defs><clipPath id="pc54"><path d="M470.0 943.0 L488.0 945.0 L487.0 953.0 L472.0 952.0Z"/></clipPath></defs><path d="M470.0 943.0 L488.0 945.0 L487.0 953.0 L472.0 952.0Z" fill="#dcdae7" opacity="0.9"/><g clip-path="url(#pc54)" stroke="#8a86a6" stroke-width="1" opacity="0.75"><path d="M464.4 954.0 l-3.6 -12.0"/><path d="M466.4 954.0 l-3.6 -12.0"/><path d="M468.3 954.0 l-3.6 -12.0"/><path d="M470.8 954.0 l-3.6 -12.0"/><path d="M472.9 954.0 l-3.6 -12.0"/><path d="M474.7 954.0 l-3.6 -12.0"/><path d="M476.6 954.0 l-3.6 -12.0"/><path d="M479.0 954.0 l-3.6 -12.0"/><path d="M481.4 954.0 l-3.6 -12.0"/><path d="M484.0 954.0 l-3.6 -12.0"/><path d="M485.8 954.0 l-3.6 -12.0"/><path d="M487.6 954.0 l-3.6 -12.0"/><path d="M489.7 954.0 l-3.6 -12.0"/><path d="M492.1 954.0 l-3.6 -12.0"/></g>
<defs><clipPath id="pc55"><path d="M585.0 865.0 L610.0 863.0 L612.0 890.0 L588.0 892.0Z"/></clipPath></defs><path d="M585.0 865.0 L610.0 863.0 L612.0 890.0 L588.0 892.0Z" fill="#dcdae7" opacity="0.9"/><g clip-path="url(#pc55)" stroke="#8a86a6" stroke-width="1" opacity="0.75"><path d="M562.7 893.0 l-20.3 -31.0"/><path d="M565.3 893.0 l-20.3 -31.0"/><path d="M567.1 893.0 l-20.3 -31.0"/><path d="M569.7 893.0 l-20.3 -31.0"/><path d="M571.6 893.0 l-20.3 -31.0"/><path d="M573.3 893.0 l-20.3 -31.0"/><path d="M575.0 893.0 l-20.3 -31.0"/><path d="M576.7 893.0 l-20.3 -31.0"/><path d="M579.2 893.0 l-20.3 -31.0"/><path d="M581.8 893.0 l-20.3 -31.0"/><path d="M584.2 893.0 l-20.3 -31.0"/><path d="M586.3 893.0 l-20.3 -31.0"/><path d="M588.3 893.0 l-20.3 -31.0"/><path d="M590.4 893.0 l-20.3 -31.0"/><path d="M592.3 893.0 l-20.3 -31.0"/><path d="M594.9 893.0 l-20.3 -31.0"/><path d="M597.5 893.0 l-20.3 -31.0"/><path d="M599.8 893.0 l-20.3 -31.0"/><path d="M601.5 893.0 l-20.3 -31.0"/><path d="M603.3 893.0 l-20.3 -31.0"/><path d="M605.9 893.0 l-20.3 -31.0"/><path d="M608.0 893.0 l-20.3 -31.0"/><path d="M609.6 893.0 l-20.3 -31.0"/><path d="M611.7 893.0 l-20.3 -31.0"/><path d="M613.5 893.0 l-20.3 -31.0"/><path d="M615.5 893.0 l-20.3 -31.0"/><path d="M617.2 893.0 l-20.3 -31.0"/><path d="M619.4 893.0 l-20.3 -31.0"/><path d="M621.4 893.0 l-20.3 -31.0"/><path d="M623.3 893.0 l-20.3 -31.0"/><path d="M625.1 893.0 l-20.3 -31.0"/><path d="M626.8 893.0 l-20.3 -31.0"/><path d="M628.8 893.0 l-20.3 -31.0"/><path d="M630.4 893.0 l-20.3 -31.0"/><path d="M632.8 893.0 l-20.3 -31.0"/></g>
<g stroke="#8f8aa8" stroke-width="1.3" opacity="0.55"><path d="M586.0 890.0 l-1.4 -26.0"/><path d="M588.7 890.0 l-1.4 -26.0"/><path d="M591.3 890.0 l-1.4 -26.0"/><path d="M594.0 890.0 l-1.4 -26.0"/><path d="M596.7 890.0 l-1.4 -26.0"/><path d="M599.3 890.0 l-1.4 -26.0"/><path d="M602.0 890.0 l-1.4 -26.0"/><path d="M604.7 890.0 l-1.4 -26.0"/><path d="M607.3 890.0 l-1.4 -26.0"/></g>
<defs><clipPath id="pc56"><path d="M402.0 860.0 L430.0 855.0 L432.0 868.0 L405.0 870.0Z"/></clipPath></defs><path d="M402.0 860.0 L430.0 855.0 L432.0 868.0 L405.0 870.0Z" fill="#dcdae7" opacity="0.9"/><g clip-path="url(#pc56)" stroke="#8a86a6" stroke-width="1" opacity="0.75"><path d="M374.0 871.0 l26.0 -17.0"/><path d="M375.6 871.0 l26.0 -17.0"/><path d="M377.9 871.0 l26.0 -17.0"/><path d="M379.8 871.0 l26.0 -17.0"/><path d="M381.9 871.0 l26.0 -17.0"/><path d="M384.5 871.0 l26.0 -17.0"/><path d="M386.8 871.0 l26.0 -17.0"/><path d="M388.5 871.0 l26.0 -17.0"/><path d="M390.7 871.0 l26.0 -17.0"/><path d="M392.6 871.0 l26.0 -17.0"/><path d="M394.5 871.0 l26.0 -17.0"/><path d="M396.6 871.0 l26.0 -17.0"/><path d="M398.3 871.0 l26.0 -17.0"/><path d="M400.4 871.0 l26.0 -17.0"/><path d="M402.1 871.0 l26.0 -17.0"/><path d="M404.3 871.0 l26.0 -17.0"/><path d="M406.0 871.0 l26.0 -17.0"/><path d="M408.3 871.0 l26.0 -17.0"/><path d="M410.8 871.0 l26.0 -17.0"/><path d="M412.8 871.0 l26.0 -17.0"/><path d="M414.7 871.0 l26.0 -17.0"/><path d="M416.3 871.0 l26.0 -17.0"/><path d="M418.1 871.0 l26.0 -17.0"/><path d="M420.0 871.0 l26.0 -17.0"/><path d="M421.7 871.0 l26.0 -17.0"/><path d="M423.7 871.0 l26.0 -17.0"/><path d="M426.2 871.0 l26.0 -17.0"/><path d="M428.8 871.0 l26.0 -17.0"/><path d="M431.2 871.0 l26.0 -17.0"/><path d="M433.3 871.0 l26.0 -17.0"/><path d="M435.1 871.0 l26.0 -17.0"/><path d="M436.9 871.0 l26.0 -17.0"/><path d="M439.0 871.0 l26.0 -17.0"/><path d="M441.4 871.0 l26.0 -17.0"/><path d="M443.3 871.0 l26.0 -17.0"/><path d="M445.6 871.0 l26.0 -17.0"/><path d="M447.2 871.0 l26.0 -17.0"/><path d="M449.2 871.0 l26.0 -17.0"/><path d="M451.6 871.0 l26.0 -17.0"/><path d="M453.9 871.0 l26.0 -17.0"/><path d="M456.1 871.0 l26.0 -17.0"/><path d="M457.7 871.0 l26.0 -17.0"/><path d="M459.8 871.0 l26.0 -17.0"/></g>
<g stroke="#7f7a9c" stroke-width="2.6" stroke-linecap="round" fill="none" opacity="0.9"><path d="M308.6 871.5 L323 887"/><path d="M325 867 L326.5 884"/><path d="M289 891 L305 898"/><path d="M288 912 L304 910"/><path d="M403 880 L440 861.5"/><path d="M440 884 L419 890 L440 896"/><path d="M478 890 L500 868"/><path d="M366 976 L380 975"/><path d="M388 974 L400 973"/><path d="M383 987 L417 980"/><path d="M337 986 L347 1003"/><path d="M342 984 L352 1000"/><path d="M681 869 Q692 865 702 868"/><path d="M685 876 Q698 872 710 878"/><path d="M698 884 Q710 884 717 890"/><path d="M82 870 L96 868"/></g>
<defs><clipPath id="pc57"><path d="M446.0 876.0 L458.0 876.0 L458.0 882.0 L446.0 882.0Z"/></clipPath></defs><path d="M446.0 876.0 L458.0 876.0 L458.0 882.0 L446.0 882.0Z" fill="#dcdae7" opacity="0.9"/><g clip-path="url(#pc57)" stroke="#8a86a6" stroke-width="1" opacity="0.75"><path d="M439.8 883.0 l-4.2 -8.0"/><path d="M441.8 883.0 l-4.2 -8.0"/><path d="M444.0 883.0 l-4.2 -8.0"/><path d="M445.8 883.0 l-4.2 -8.0"/><path d="M447.7 883.0 l-4.2 -8.0"/><path d="M449.8 883.0 l-4.2 -8.0"/><path d="M452.4 883.0 l-4.2 -8.0"/><path d="M454.4 883.0 l-4.2 -8.0"/><path d="M456.8 883.0 l-4.2 -8.0"/><path d="M458.8 883.0 l-4.2 -8.0"/><path d="M461.3 883.0 l-4.2 -8.0"/><path d="M463.1 883.0 l-4.2 -8.0"/></g>
<g stroke="#1f1b34" stroke-width="5.5" fill="none" stroke-linecap="round" stroke-linejoin="round"><path d="M359.5 793.5 L369.3 805 L380 792"/><path d="M369.3 805 L369.3 870"/></g>
<path d="M340 898 L346.5 876.5 L385.5 876.5 L392.5 898" fill="none" stroke="#1f1b34" stroke-width="11" stroke-linejoin="round"/>
<path d="M343.5 897 L349 878.5 L383 878.5 L389 897" fill="none" stroke="#fff" stroke-width="2"/>
<rect x="313.7" y="897.6" width="98.3" height="64" rx="7" fill="#1f1b34" stroke="#1f1b34" stroke-width="1" />
<rect x="320.5" y="905" width="84.5" height="47.5" fill="#38277c"/>
<rect x="320.5" y="905" width="77" height="3.5" fill="#e8e6f2"/>
<path d="M324 912 L323 948" stroke="#e8e6f2" stroke-width="1.2"/><path d="M325 925 L338 912 M325 932 L342 914" stroke="#b7afe0" stroke-width="1"/>
<text x="334.5" y="948" font-family="Liberation Sans" font-weight="bold" font-size="37" fill="#fff" textLength="56" lengthAdjust="spacingAndGlyphs">$ $</text>
<path d="M151.5 900 L151.5 888 Q151.5 877 163 877 Q174.5 877 174.5 888 L174.5 900" fill="none" stroke="#1f1b34" stroke-width="6.5"/>
<rect x="136" y="901.5" width="52.5" height="41.5" rx="5" fill="#fbfbfc" stroke="#1f1b34" stroke-width="7" />
<circle cx="162.9" cy="922.5" r="11" fill="#fbfbfc" stroke="#1f1b34" stroke-width="5"/>
<path d="M157 922.5 L166 922.5 M163 918.5 L167 922.5 L163 926.5" stroke="#1f1b34" stroke-width="2.5" fill="none"/>
<path d="M180 908 L182 911 M181 914 L183 916" stroke="#1f1b34" stroke-width="2"/>
<path d="M193 899 Q230 897 270 900" stroke="#38277c" stroke-width="5" fill="none"/>
<path d="M262 890 L281 900.5 L262 910 L266 900 Z" fill="#38277c" stroke="#1f1b34" stroke-width="1.5" stroke-linejoin="round"/>
<path d="M196 925 Q240 930 288 940" stroke="#38277c" stroke-width="6" fill="none"/>
<path d="M279 929 L301 943 L276 953 L282 941 Z" fill="#38277c" stroke="#1f1b34" stroke-width="1.5" stroke-linejoin="round"/>
<path d="M193 932 L200 934" stroke="#1f1b34" stroke-width="3"/>
<path d="M92 874 L96 877 L86 883 L95 888 L84 894 L88 898" stroke="#1f1b34" stroke-width="3" fill="none" stroke-linecap="round" stroke-linejoin="round" opacity="0.85"/>
<path d="M121 892 L132 891" stroke="#38277c" stroke-width="3" stroke-linecap="round"/>
<path d="M129 896 Q84 902 62 924 Q45 945 60 970 L78 963 Q66 948 76 934 Q92 914 129 901 Z" fill="#38277c" stroke="#1f1b34" stroke-width="1.2"/>
<path d="M60 940 Q58 952 66 962" stroke="#1f1b34" stroke-width="1.5" fill="none" opacity="0.7"/>
<path d="M104 896 L128 891" stroke="#38277c" stroke-width="3" stroke-linecap="round"/>
<g transform="translate(102 977) rotate(20)"><rect x="-29" y="-15" width="58" height="30" rx="4" fill="#38277c" stroke="#1f1b34" stroke-width="4"/><path d="M-18 -10 L12 -10 L14 -3 L-16 -3 Z" fill="#fff"/><rect x="21" y="-9" width="7" height="14" fill="#fff"/></g>
<circle cx="125.4" cy="1009" r="4" fill="none" stroke="#38277c" stroke-width="2.5"/>
<path d="M140 1008 Q190 1012 240 998" stroke="#38277c" stroke-width="5" fill="none" stroke-dasharray="11 8"/>
<path d="M238 986 L259 990 L246 1006 L245 996 Z" fill="#38277c" stroke="#1f1b34" stroke-width="1.5" stroke-linejoin="round"/>
<path d="M486 916 L440 928" stroke="#38277c" stroke-width="5.5"/>
<path d="M442 915 L420 931.5 L446 939 L440 928 Z" fill="#38277c" stroke="#1f1b34" stroke-width="1.5" stroke-linejoin="round"/>
<path d="M426.5 956 L470 982" stroke="#38277c" stroke-width="5.5"/><path d="M428 951 L434 962" stroke="#38277c" stroke-width="2"/>
<path d="M463 970 L484 991.6 L457 990 L467 983 Z" fill="#38277c" stroke="#1f1b34" stroke-width="1.5" stroke-linejoin="round"/>
<path d="M532 891 L544 874 L563 871 L564 891 Z" fill="#fbfbfc" stroke="#1f1b34" stroke-width="4" stroke-linejoin="round"/>
<rect x="492.5" y="892" width="89" height="43.5" rx="3" fill="#38277c" stroke="#1f1b34" stroke-width="5" />
<path d="M497 899 L578 899" stroke="#fff" stroke-width="2.2"/><path d="M500 928.5 L570 929" stroke="#fff" stroke-width="1.8"/>
<path d="M497 905 L497 925" stroke="#c9c4ea" stroke-width="1.2"/>
<text x="508" y="922.5" font-family="Liberation Sans" font-weight="bold" font-size="19" fill="#fff" textLength="51.7" lengthAdjust="spacingAndGlyphs">9.S $</text>
<path d="M517.5 936 L561 936 L561 946 L517.5 946 Z" fill="#1f1b34"/><path d="M525 939 L555 939" stroke="#fff" stroke-width="1.2"/>
<g stroke="#1f1b34" stroke-width="2" stroke-linecap="round"><path d="M530 950 L560 950"/><path d="M545 954 L575 953"/></g>
<path d="M627 922.5 L627 878 Q627 868 640 868 L654 868 Q667.5 868 667.5 878 L667.5 922.5 Z" fill="#38277c" stroke="#1f1b34" stroke-width="5" stroke-linejoin="round"/>
<circle cx="644" cy="883.5" r="5.5" fill="none" stroke="#fff" stroke-width="2.5"/>
<path d="M637 899 L655 899" stroke="#fff" stroke-width="2"/><path d="M637 904 L650 904" stroke="#fff" stroke-width="2"/>
<rect x="666" y="891.5" width="29.5" height="21.5" rx="3" fill="#38277c" stroke="#1f1b34" stroke-width="4" />
<circle cx="676" cy="902" r="2" fill="#fff"/><circle cx="684" cy="902" r="2" fill="#fff"/>
<rect x="610" y="905.5" width="37" height="38.5" rx="3" fill="#fbfbfc" stroke="#1f1b34" stroke-width="5.5" />
<path d="M622 935 L638 917 M628 936 L640 922" stroke="#1f1b34" stroke-width="1.5"/>
<path d="M647 920 L658 920" stroke="#1f1b34" stroke-width="3"/>
<g stroke="#1f1b34" stroke-width="2" stroke-linecap="round"><path d="M590 938 L605 938"/><path d="M588 946 L606 946"/><path d="M600 952 L630 952"/></g>
<path d="M590 903 L606 905" stroke="#38277c" stroke-width="4"/>
<rect x="672" y="929.5" width="45" height="28" rx="4" fill="#38277c" stroke="#1f1b34" stroke-width="4.5" />
<path d="M678 936 L712 936" stroke="#fff" stroke-width="1.5"/>
<rect x="663" y="942" width="42" height="23" rx="3" fill="#38277c" stroke="#1f1b34" stroke-width="4.5" />
<rect x="667" y="947" width="34" height="13" fill="#fbfbfc"/>
<ellipse cx="674" cy="953.5" rx="1.8" ry="3" fill="#38277c"/><ellipse cx="688" cy="953.5" rx="1.8" ry="3" fill="#38277c"/>
<path d="M322 1024 Q293 1025 288.5 1034 Q286 1045 302 1052" stroke="#1f1b34" stroke-width="4" fill="none"/>
<path d="M449 1027 Q478 1024 484 1034 Q487 1046 472 1052" stroke="#1f1b34" stroke-width="4" fill="none"/>
<defs><clipPath id="gc"><path d="M297.8 1064 C297.8 1022 338 1010.5 384.6 1010.5 C431 1010.5 471.4 1022 471.4 1064 Z"/></clipPath></defs>
<path d="M297.8 1064 C297.8 1022 338 1010.5 384.6 1010.5 C431 1010.5 471.4 1022 471.4 1064 Z" fill="#fbfbfc"/>
<g clip-path="url(#gc)" fill="#38277c"><path d="M300 1064 Q306 1045 320 1040 Q330 1048 322 1064 Z"/><path d="M330 1040 Q345 1030 352 1040 Q348 1052 338 1064 L328 1064 Z"/><path d="M356 1060 Q362 1050 372 1055 L378 1064 L352 1064 Z"/><path d="M384 1064 L392 1050 Q402 1052 404 1064 Z"/><path d="M418 1064 Q420 1040 440 1030 Q462 1040 468 1064 Z"/><path d="M360 1020 Q372 1014 382 1018 L376 1030 L362 1028 Z"/><path d="M336 1028 Q346 1020 356 1026 L346 1036 Z"/></g>
<g clip-path="url(#gc)" stroke="#1f1b34" stroke-width="2.6" fill="none"><ellipse cx="384.6" cy="1064" rx="58" ry="56"/><ellipse cx="384.6" cy="1064" rx="26" ry="56"/><path d="M297.6 1044 Q384.6 1028 471.6 1044"/><path d="M297.6 1026 Q384.6 1014 471.6 1026"/><path d="M384.6 1010 L384.6 1064"/><path d="M315 1060 L440 1020"/></g>
<path d="M297.8 1064 C297.8 1022 338 1010.5 384.6 1010.5 C431 1010.5 471.4 1022 471.4 1064" stroke="#1f1b34" stroke-width="5" fill="none"/>
<circle cx="392" cy="1035" r="8.5" fill="#38277c" stroke="#1f1b34" stroke-width="1.5"/><circle cx="392" cy="1035" r="3" fill="#fff"/>
<path d="M296 1065.5 L480 1065.5" stroke="#38277c" stroke-width="3"/>
<path d="M300 1055 Q312 1062 330 1060" stroke="#1f1b34" stroke-width="3" fill="none"/>
<circle cx="448" cy="1045" r="5" fill="none" stroke="#38277c" stroke-width="3"/>
<g stroke="#1f1b34" stroke-width="2.6" stroke-linecap="round" fill="none"><path d="M134 1058.6 Q200 1052 259 1049.5"/><path d="M133 1067.8 Q220 1062 294 1060"/><path d="M130 1075.6 L143 1073.7"/><path d="M160 1070.5 L168 1070"/><path d="M478 1050.5 Q550 1050 620 1052"/><path d="M480 1060 Q540 1058 612 1061"/></g>
<g fill="#38277c"><circle cx="268" cy="1049" r="4.2"/><circle cx="286.2" cy="1047.7" r="4.5"/><circle cx="493" cy="1045" r="3.5"/><circle cx="514" cy="1046" r="3.8"/><circle cx="534" cy="1046" r="3.8"/></g>
<g fill="#fff"><circle cx="268" cy="1049" r="1.3"/><circle cx="286.2" cy="1047.7" r="1.5"/></g>
<path d="M268 1049 L286 1048 M286 1048 L298 1048 M493 1045 L540 1046" stroke="#1f1b34" stroke-width="1.5"/>
<path d="M150 1083 Q140 1095 160 1108 Q190 1118 260 1117 L560 1116 Q620 1114 628 1098 Q630 1092 627 1088" stroke="#1f1b34" stroke-width="3" fill="none" stroke-linecap="round"/>
<g transform="translate(658 1058) rotate(42)"><path d="M-14 -24.0 Q-14 -30.0 -8 -30.0 L8 -30.0 Q14 -30.0 14 -24.0 L14 20.0 Q10 30.0 0 30.0 Q-10 30.0 -14 20.0 Z" fill="#38277c" stroke="#1f1b34" stroke-width="4.5"/><path d="M-14 8.0 L14 8.0 L14 20.0 Q10 30.0 0 30.0 Q-10 30.0 -14 20.0 Z" fill="#fbfbfc" stroke="#1f1b34" stroke-width="3.5"/><path d="M0 -20.0 L0 2.0 M-7 -8.0 L7 -8.0" stroke="#fff" stroke-width="2"/><circle cx="-5" cy="-16.0" r="1.5" fill="#fff"/><circle cx="6" cy="-2.0" r="1.5" fill="#fff"/><circle cx="-3" cy="18.0" r="3" fill="#1f1b34"/><circle cx="3.5" cy="21.0" r="2.5" fill="#1f1b34"/><circle cx="0" cy="14.0" r="2" fill="#1f1b34"/></g>
<g transform="translate(690 1079) rotate(38)"><rect x="-8" y="-41.0" width="16" height="15" rx="2" fill="#38277c" stroke="#1f1b34" stroke-width="3"/><rect x="-5" y="-38.0" width="10" height="8" fill="#fff"/><path d="M-14 -22.0 Q-14 -28.0 -8 -28.0 L8 -28.0 Q14 -28.0 14 -22.0 L14 18.0 Q10 28.0 0 28.0 Q-10 28.0 -14 18.0 Z" fill="#38277c" stroke="#1f1b34" stroke-width="4.5"/><path d="M-14 6.0 L14 6.0 L14 18.0 Q10 28.0 0 28.0 Q-10 28.0 -14 18.0 Z" fill="#fbfbfc" stroke="#1f1b34" stroke-width="3.5"/><path d="M0 -18.0 L0 0.0 M-7 -6.0 L7 -6.0" stroke="#fff" stroke-width="2"/><circle cx="-5" cy="-14.0" r="1.5" fill="#fff"/><circle cx="6" cy="0.0" r="1.5" fill="#fff"/><circle cx="-3" cy="16.0" r="3" fill="#1f1b34"/><circle cx="3.5" cy="19.0" r="2.5" fill="#1f1b34"/><circle cx="0" cy="12.0" r="2" fill="#1f1b34"/></g>
<g stroke="#9a96b2" stroke-width="2" stroke-linecap="round"><path d="M710 1082 L720 1074"/><path d="M712 1088 L724 1080"/></g>
<circle cx="703" cy="1040" r="1.5" fill="#1f1b34"/>
<path d="M324.6 202 L331 202 L331 210 L324.6 210 Z" fill="#45279a"/>
<path d="M336.5 204.5 Q360 203.5 392 204.5" stroke="#45279a" stroke-width="9" fill="none"/>
<path d="M384.8 186.4 L417.6 206.5 L385.7 225.6 L392.0 206.0Z" fill="#45279a" stroke="#1e1840" stroke-width="1.6" stroke-linejoin="round"/>
<path d="M87.7 244 Q70 258 63 280 Q57 300 58 320 Q59 345 69.7 369" stroke="#2a2058" stroke-width="5.5" fill="none" stroke-dasharray="12 7" stroke-linecap="butt"/>
<path d="M99.4 398.8 L80.6 363.6 L77.0 380.5 L58.8 385.5Z" fill="#45279a" stroke="#1e1840" stroke-width="1.6" stroke-linejoin="round"/>
<path d="M670.5 240.7 Q692 255 702 276 Q711 298 710 321 Q709 350 692.7 385" stroke="#2a2058" stroke-width="6" fill="none" stroke-dasharray="13 7"/>
<path d="M672.0 406.4 L682.9 375.0 L687.8 386.6 L705.0 392.4Z" fill="#45279a" stroke="#1e1840" stroke-width="1.6" stroke-linejoin="round"/>
<path d="M329 398 Q350 380 378 382 Q408 384 436 405" stroke="#45279a" stroke-width="8" fill="none"/>
<path d="M318 409 L322 404 M322.5 405 L327 399.5" stroke="#45279a" stroke-width="3"/>
<path d="M443.9 383.3 L453.8 419.8 L417.3 413.2 L435.0 405.4Z" fill="#45279a" stroke="#1e1840" stroke-width="1.6" stroke-linejoin="round"/>
<path d="M359 397.7 L393 397" stroke="#c9c4e6" stroke-width="3" stroke-linecap="round"/>
<circle cx="52.2" cy="491.8" r="8.5" fill="#45279a"/>
<path d="M52.5 495 L52.5 521" stroke="#2a2058" stroke-width="5.5"/>
<path d="M53 528 Q56 560 70 590 Q80 605 95 616" stroke="#2a2058" stroke-width="5.5" fill="none" stroke-dasharray="9 8"/>
<path d="M79.3 625.0 L113.3 631.4 L99.4 604.3 L95.3 618.9Z" fill="#45279a" stroke="#1e1840" stroke-width="1.6" stroke-linejoin="round"/>
<path d="M439 610.3 Q420 624 394 624 Q370 624 352 618" stroke="#45279a" stroke-width="9" fill="none"/>
<path d="M441 607 L446 603.5 M447 603 L452 600" stroke="#45279a" stroke-width="3.5"/>
<path d="M327.8 603.4 L364.0 602.5 L354.2 614.2 L345.4 635.7Z" fill="#45279a" stroke="#1e1840" stroke-width="1.6" stroke-linejoin="round"/>
<path d="M686 472 Q705 484 714 504 Q722 525 722 550 Q721 580 711 606 Q700 630 678 653.5" stroke="#2a2058" stroke-width="5.5" fill="none" stroke-dasharray="12 8"/>
<path d="M656.2 678.3 L665.8 646.8 L672.5 660.0 L688.7 662.0Z" fill="#45279a" stroke="#1e1840" stroke-width="1.6" stroke-linejoin="round"/>
<rect x="382" y="657" width="6.6" height="14" rx="2.5" fill="#2a2058"/>
<path d="M393.4 657.8 L423.6 663 L423.6 665.6 L393.4 670.6 Z" fill="#2a2058"/>
<path d="M423 664.3 L631 665.4" stroke="#45279a" stroke-width="3.8" stroke-linecap="round"/>
<path d="M370.9 660.5 L370.9 665 M370.9 670 L370.9 686 M370.5 692 L370.5 704 M370.5 710 L370.5 722 M370.3 726 L370.3 737 M370 744 L370 754 M369.8 762 L369.8 771 M369.5 778 L369.5 786" stroke="#2a2058" stroke-width="3.8" stroke-linecap="round"/>
<path d="M378 695 L404 695" stroke="#c9c4e6" stroke-width="2.5" stroke-linecap="round"/>
<path d="M300 811 L336 811" stroke="#45279a" stroke-width="7"/>
<path d="M328.0 800.0 L352.9 814.6 L328.0 826.5 L333.0 812.0Z" fill="#45279a" stroke="#1e1840" stroke-width="1.6" stroke-linejoin="round"/>
<path d="M316 800 L326 800 M318 804 L324 804" stroke="#45279a" stroke-width="1.5"/>
<path d="M673.5 657.5 L692.3 637.7" stroke="#2a2058" stroke-width="6" stroke-linecap="round"/>
<path d="M695.4 630.4 L701.7 624.2" stroke="#2a2058" stroke-width="6" stroke-linecap="round"/>
<text x="118" y="381.5" font-family="Liberation Sans" font-weight="normal" font-size="25.44" fill="#1f1b34" textLength="206" lengthAdjust="spacingAndGlyphs" stroke="#1f1b34" stroke-width="1.1" stroke-linejoin="round">Patch vulnerabilities</text>
<text x="427" y="363.5" font-family="Liberation Sans" font-weight="normal" font-size="25.44" fill="#1f1b34" textLength="248" lengthAdjust="spacingAndGlyphs" stroke="#1f1b34" stroke-width="1.1" stroke-linejoin="round">Use a password manager.</text>
<text x="133" y="628.5" font-family="Liberation Sans" font-weight="normal" font-size="24.71" fill="#1f1b34" textLength="146.39999999999998" lengthAdjust="spacingAndGlyphs" stroke="#1f1b34" stroke-width="1.1" stroke-linejoin="round">Layered access</text>
<text x="472.6" y="625.5" font-family="Liberation Sans" font-weight="normal" font-size="24.71" fill="#1f1b34" textLength="208.39999999999998" lengthAdjust="spacingAndGlyphs" stroke="#1f1b34" stroke-width="1.1" stroke-linejoin="round">Avoid phishing scams</text>
<text x="418.75" y="705.5" font-family="Liberation Sans" font-weight="normal" font-size="30.52" fill="#1f1b34" textLength="145.25" lengthAdjust="spacingAndGlyphs" stroke="#1f1b34" stroke-width="1.1" stroke-linejoin="round">Hackers are</text>
<text x="415.2" y="737" font-family="Liberation Sans" font-weight="normal" font-size="30.52" fill="#1f1b34" textLength="134.8" lengthAdjust="spacingAndGlyphs" stroke="#1f1b34" stroke-width="1.1" stroke-linejoin="round">targeting...</text>
<text x="495.7" y="995.6" font-family="Liberation Sans" font-weight="normal" font-size="29.07" fill="#37324f" textLength="214.3" lengthAdjust="spacingAndGlyphs" stroke="#37324f" stroke-width="1.1" stroke-linejoin="round">Business Networks</text>
<text x="168" y="1100.9" font-family="Liberation Sans" font-weight="normal" font-size="28.34" fill="#1f1b34" textLength="427.5" lengthAdjust="spacingAndGlyphs" stroke="#1f1b34" stroke-width="1.1" stroke-linejoin="round">Protect your information and systems.</text>
</svg></body></html>
